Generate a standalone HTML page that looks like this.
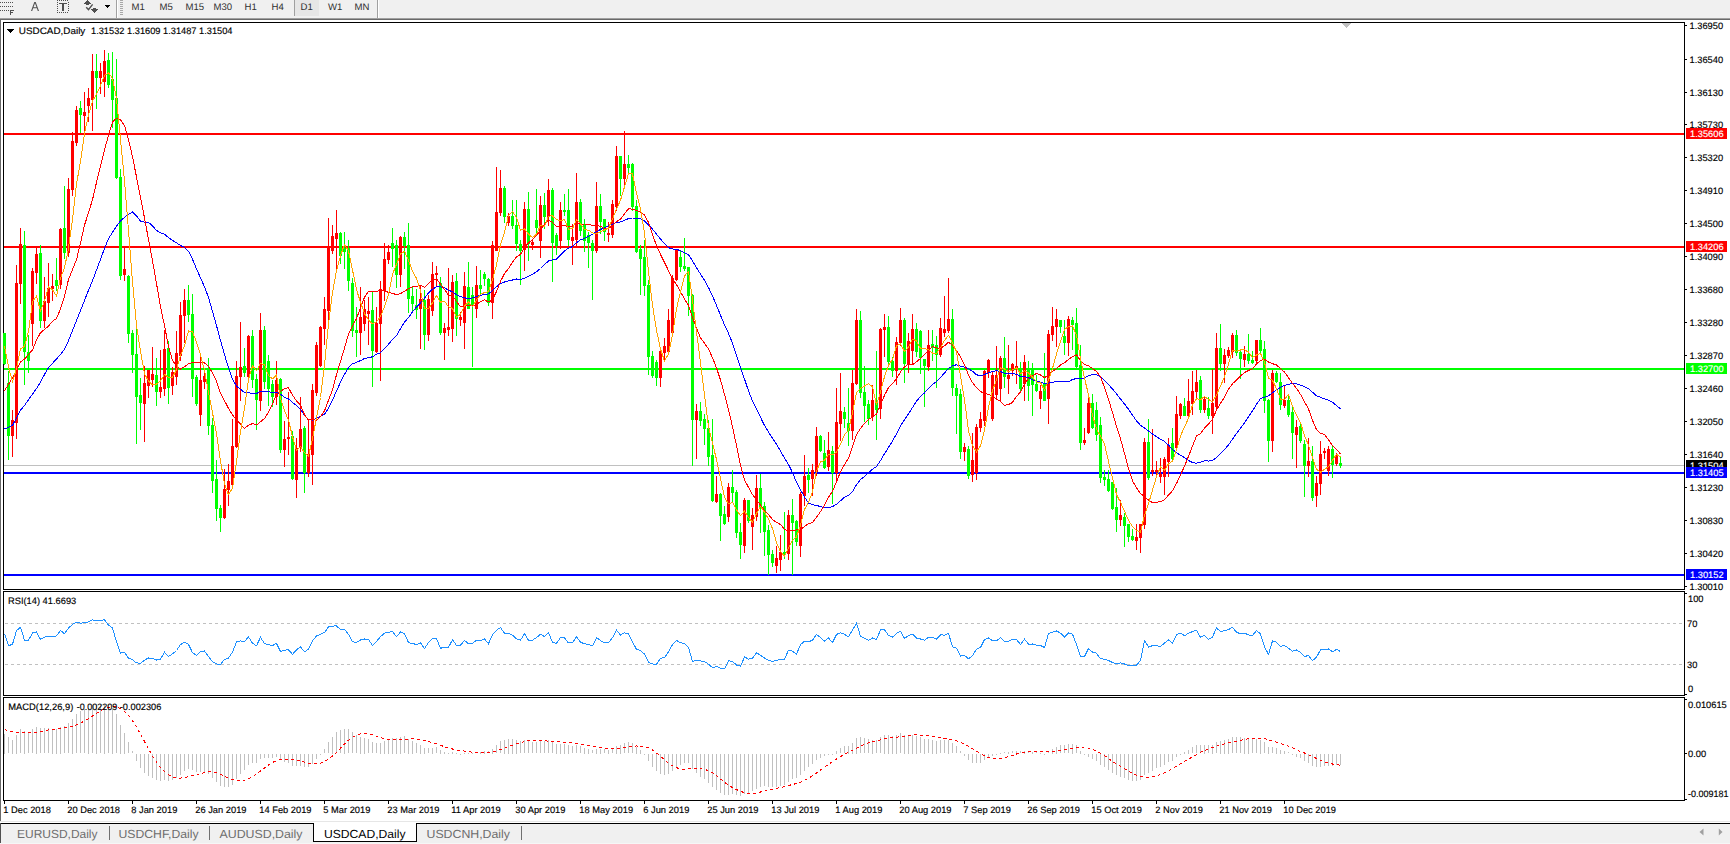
<!DOCTYPE html>
<html><head><meta charset="utf-8"><style>
html,body{margin:0;padding:0;background:#fff;width:1730px;height:844px;overflow:hidden}
svg{display:block}
text{font-family:"Liberation Sans", sans-serif;white-space:pre}
</style></head><body>
<svg width="1730" height="844" viewBox="0 0 1730 844" shape-rendering="crispEdges" text-rendering="geometricPrecision">
<rect x="0" y="0" width="1730" height="18" fill="#f0f0f0"/>
<rect x="0" y="18" width="1730" height="1" fill="#a0a0a0"/>
<rect x="0" y="19" width="1730" height="1" fill="#696969"/>
<rect x="0" y="19" width="1" height="802" fill="#696969"/>
<rect x="0" y="2" width="1" height="1" fill="#505050"/>
<rect x="2" y="2" width="1" height="1" fill="#505050"/>
<rect x="4" y="2" width="1" height="1" fill="#505050"/>
<rect x="6" y="2" width="1" height="1" fill="#505050"/>
<rect x="8" y="2" width="1" height="1" fill="#505050"/>
<rect x="10" y="2" width="1" height="1" fill="#505050"/>
<rect x="12" y="2" width="1" height="1" fill="#505050"/>
<rect x="0" y="6" width="1" height="1" fill="#505050"/>
<rect x="2" y="6" width="1" height="1" fill="#505050"/>
<rect x="4" y="6" width="1" height="1" fill="#505050"/>
<rect x="6" y="6" width="1" height="1" fill="#505050"/>
<rect x="8" y="6" width="1" height="1" fill="#505050"/>
<rect x="10" y="6" width="1" height="1" fill="#505050"/>
<rect x="12" y="6" width="1" height="1" fill="#505050"/>
<rect x="0" y="10" width="1" height="1" fill="#505050"/>
<rect x="2" y="10" width="1" height="1" fill="#505050"/>
<rect x="4" y="10" width="1" height="1" fill="#505050"/>
<rect x="6" y="10" width="1" height="1" fill="#505050"/>
<rect x="8" y="10" width="1" height="1" fill="#505050"/>
<rect x="10" y="10" width="1.3" height="5" fill="#505050"/><rect x="10" y="10" width="4" height="1.2" fill="#505050"/><rect x="10" y="12" width="3" height="1.1" fill="#505050"/>
<path d="M31 11 L34.3 2 L35.7 2 L39 11 L37.8 11 L36.9 8.3 L33.1 8.3 L32.2 11 Z M33.5 7.2 L36.5 7.2 L35 3.2 Z" fill="#505050" fill-rule="evenodd" shape-rendering="geometricPrecision"/>
<rect x="57" y="0" width="1" height="1" fill="#505050"/><rect x="57" y="12" width="1" height="1" fill="#505050"/>
<rect x="59" y="0" width="1" height="1" fill="#505050"/><rect x="59" y="12" width="1" height="1" fill="#505050"/>
<rect x="61" y="0" width="1" height="1" fill="#505050"/><rect x="61" y="12" width="1" height="1" fill="#505050"/>
<rect x="63" y="0" width="1" height="1" fill="#505050"/><rect x="63" y="12" width="1" height="1" fill="#505050"/>
<rect x="65" y="0" width="1" height="1" fill="#505050"/><rect x="65" y="12" width="1" height="1" fill="#505050"/>
<rect x="67" y="0" width="1" height="1" fill="#505050"/><rect x="67" y="12" width="1" height="1" fill="#505050"/>
<rect x="57" y="2" width="1" height="1" fill="#505050"/><rect x="68" y="2" width="1" height="1" fill="#505050"/>
<rect x="57" y="4" width="1" height="1" fill="#505050"/><rect x="68" y="4" width="1" height="1" fill="#505050"/>
<rect x="57" y="6" width="1" height="1" fill="#505050"/><rect x="68" y="6" width="1" height="1" fill="#505050"/>
<rect x="57" y="8" width="1" height="1" fill="#505050"/><rect x="68" y="8" width="1" height="1" fill="#505050"/>
<rect x="57" y="10" width="1" height="1" fill="#505050"/><rect x="68" y="10" width="1" height="1" fill="#505050"/>
<rect x="59" y="3" width="8" height="1" fill="#505050"/><rect x="62" y="3" width="2" height="8" fill="#505050"/>
<rect x="87" y="0" width="1" height="1" fill="#505050"/>
<rect x="86" y="1" width="3" height="1" fill="#505050"/>
<rect x="85" y="2" width="5" height="1" fill="#505050"/>
<rect x="84" y="3" width="7" height="1" fill="#505050"/>
<rect x="86" y="4" width="3" height="1" fill="#505050"/>
<rect x="93" y="8" width="3" height="1" fill="#505050"/>
<rect x="91" y="9" width="7" height="1" fill="#505050"/>
<rect x="92" y="10" width="5" height="1" fill="#505050"/>
<rect x="93" y="11" width="3" height="1" fill="#505050"/>
<rect x="94" y="12" width="1" height="1" fill="#505050"/>
<path d="M86.2 7.3 L88.5 9.6 L92.6 4.4" stroke="#505050" stroke-width="1.4" fill="none" shape-rendering="geometricPrecision"/>
<rect x="105" y="5" width="5" height="1" fill="#000"/><rect x="106" y="6" width="3" height="1" fill="#000"/><rect x="107" y="7" width="1" height="1" fill="#000"/>
<rect x="116" y="0" width="1" height="18" fill="#a0a0a0"/><rect x="117" y="0" width="1" height="18" fill="#fff"/>
<rect x="120" y="0" width="3" height="1" fill="#a8a8a8"/>
<rect x="120" y="2" width="3" height="1" fill="#a8a8a8"/>
<rect x="120" y="4" width="3" height="1" fill="#a8a8a8"/>
<rect x="120" y="6" width="3" height="1" fill="#a8a8a8"/>
<rect x="120" y="8" width="3" height="1" fill="#a8a8a8"/>
<rect x="120" y="10" width="3" height="1" fill="#a8a8a8"/>
<rect x="120" y="12" width="3" height="1" fill="#a8a8a8"/>
<rect x="120" y="14" width="3" height="1" fill="#a8a8a8"/>
<rect x="295" y="0" width="24" height="16" fill="#e6e6e6"/>
<rect x="294" y="0" width="1" height="16" fill="#a0a0a0"/>
<rect x="377" y="0" width="1" height="18" fill="#a0a0a0"/><rect x="378" y="0" width="1" height="18" fill="#fff"/>
<text x="131.5" y="10.2" font-family="Liberation Sans, sans-serif" font-size="9.6" stroke-width="0.01" fill="#303030">M1</text>
<text x="159.5" y="10.2" font-family="Liberation Sans, sans-serif" font-size="9.6" stroke-width="0.01" fill="#303030">M5</text>
<text x="185.5" y="10.2" font-family="Liberation Sans, sans-serif" font-size="9.6" stroke-width="0.01" fill="#303030">M15</text>
<text x="213.5" y="10.2" font-family="Liberation Sans, sans-serif" font-size="9.6" stroke-width="0.01" fill="#303030">M30</text>
<text x="244.5" y="10.2" font-family="Liberation Sans, sans-serif" font-size="9.6" stroke-width="0.01" fill="#303030">H1</text>
<text x="271.5" y="10.2" font-family="Liberation Sans, sans-serif" font-size="9.6" stroke-width="0.01" fill="#303030">H4</text>
<text x="300.5" y="10.2" font-family="Liberation Sans, sans-serif" font-size="9.6" stroke-width="0.01" fill="#303030">D1</text>
<text x="328" y="10.2" font-family="Liberation Sans, sans-serif" font-size="9.6" stroke-width="0.01" fill="#303030">W1</text>
<text x="354.5" y="10.2" font-family="Liberation Sans, sans-serif" font-size="9.6" stroke-width="0.01" fill="#303030">MN</text>
<rect x="1" y="20" width="1729" height="801" fill="#ffffff"/>
<rect x="3.5" y="22.5" width="1681" height="567" fill="none" stroke="#000" stroke-width="1"/>
<rect x="3.5" y="591.5" width="1681" height="104" fill="none" stroke="#000" stroke-width="1"/>
<rect x="3.5" y="697.5" width="1681" height="103" fill="none" stroke="#000" stroke-width="1"/>
<rect x="1685" y="25" width="2" height="1" fill="#000"/>
<text x="1689.5" y="29" font-family="Liberation Sans, sans-serif" font-size="9.3" fill="#000" stroke="#000" stroke-width="0.15">1.36950</text>
<rect x="1685" y="59" width="2" height="1" fill="#000"/>
<text x="1689.5" y="63" font-family="Liberation Sans, sans-serif" font-size="9.3" fill="#000" stroke="#000" stroke-width="0.15">1.36540</text>
<rect x="1685" y="92" width="2" height="1" fill="#000"/>
<text x="1689.5" y="96" font-family="Liberation Sans, sans-serif" font-size="9.3" fill="#000" stroke="#000" stroke-width="0.15">1.36130</text>
<rect x="1685" y="124" width="2" height="1" fill="#000"/>
<text x="1689.5" y="128" font-family="Liberation Sans, sans-serif" font-size="9.3" fill="#000" stroke="#000" stroke-width="0.15">1.35730</text>
<rect x="1685" y="157" width="2" height="1" fill="#000"/>
<text x="1689.5" y="161" font-family="Liberation Sans, sans-serif" font-size="9.3" fill="#000" stroke="#000" stroke-width="0.15">1.35320</text>
<rect x="1685" y="190" width="2" height="1" fill="#000"/>
<text x="1689.5" y="194" font-family="Liberation Sans, sans-serif" font-size="9.3" fill="#000" stroke="#000" stroke-width="0.15">1.34910</text>
<rect x="1685" y="223" width="2" height="1" fill="#000"/>
<text x="1689.5" y="227" font-family="Liberation Sans, sans-serif" font-size="9.3" fill="#000" stroke="#000" stroke-width="0.15">1.34500</text>
<rect x="1685" y="256" width="2" height="1" fill="#000"/>
<text x="1689.5" y="260" font-family="Liberation Sans, sans-serif" font-size="9.3" fill="#000" stroke="#000" stroke-width="0.15">1.34090</text>
<rect x="1685" y="289" width="2" height="1" fill="#000"/>
<text x="1689.5" y="293" font-family="Liberation Sans, sans-serif" font-size="9.3" fill="#000" stroke="#000" stroke-width="0.15">1.33680</text>
<rect x="1685" y="322" width="2" height="1" fill="#000"/>
<text x="1689.5" y="326" font-family="Liberation Sans, sans-serif" font-size="9.3" fill="#000" stroke="#000" stroke-width="0.15">1.33280</text>
<rect x="1685" y="355" width="2" height="1" fill="#000"/>
<text x="1689.5" y="359" font-family="Liberation Sans, sans-serif" font-size="9.3" fill="#000" stroke="#000" stroke-width="0.15">1.32870</text>
<rect x="1685" y="388" width="2" height="1" fill="#000"/>
<text x="1689.5" y="392" font-family="Liberation Sans, sans-serif" font-size="9.3" fill="#000" stroke="#000" stroke-width="0.15">1.32460</text>
<rect x="1685" y="421" width="2" height="1" fill="#000"/>
<text x="1689.5" y="425" font-family="Liberation Sans, sans-serif" font-size="9.3" fill="#000" stroke="#000" stroke-width="0.15">1.32050</text>
<rect x="1685" y="454" width="2" height="1" fill="#000"/>
<text x="1689.5" y="458" font-family="Liberation Sans, sans-serif" font-size="9.3" fill="#000" stroke="#000" stroke-width="0.15">1.31640</text>
<rect x="1685" y="487" width="2" height="1" fill="#000"/>
<text x="1689.5" y="491" font-family="Liberation Sans, sans-serif" font-size="9.3" fill="#000" stroke="#000" stroke-width="0.15">1.31230</text>
<rect x="1685" y="520" width="2" height="1" fill="#000"/>
<text x="1689.5" y="524" font-family="Liberation Sans, sans-serif" font-size="9.3" fill="#000" stroke="#000" stroke-width="0.15">1.30830</text>
<rect x="1685" y="553" width="2" height="1" fill="#000"/>
<text x="1689.5" y="557" font-family="Liberation Sans, sans-serif" font-size="9.3" fill="#000" stroke="#000" stroke-width="0.15">1.30420</text>
<rect x="1685" y="586" width="2" height="1" fill="#000"/>
<text x="1689.5" y="590" font-family="Liberation Sans, sans-serif" font-size="9.3" fill="#000" stroke="#000" stroke-width="0.15">1.30010</text>
<rect x="4" y="465" width="1680" height="1" fill="#c0c0c0"/>
<rect x="4" y="133" width="1680" height="2" fill="#ff0000"/>
<rect x="4" y="246" width="1680" height="2" fill="#ff0000"/>
<rect x="4" y="368" width="1680" height="2" fill="#00ff00"/>
<rect x="4" y="472" width="1680" height="2" fill="#0000ff"/>
<rect x="4" y="574" width="1680" height="2" fill="#0000ff"/>
<text x="1688" y="602" font-family="Liberation Sans, sans-serif" font-size="9.3" fill="#000" stroke="#000" stroke-width="0.15">100</text>
<text x="1687" y="626.5" font-family="Liberation Sans, sans-serif" font-size="9.3" fill="#000" stroke="#000" stroke-width="0.15">70</text>
<text x="1687" y="668" font-family="Liberation Sans, sans-serif" font-size="9.3" fill="#000" stroke="#000" stroke-width="0.15">30</text>
<text x="1688" y="691.5" font-family="Liberation Sans, sans-serif" font-size="9.3" fill="#000" stroke="#000" stroke-width="0.15">0</text>
<rect x="1685" y="593" width="2" height="1" fill="#000"/><rect x="1685" y="694" width="2" height="1" fill="#000"/>
<line x1="5" y1="623.5" x2="1684" y2="623.5" stroke="#c0c0c0" stroke-dasharray="3,3"/>
<line x1="5" y1="664.5" x2="1684" y2="664.5" stroke="#c0c0c0" stroke-dasharray="3,3"/>
<text x="1688" y="707.5" font-family="Liberation Sans, sans-serif" font-size="9.3" fill="#000" stroke="#000" stroke-width="0.15">0.010615</text>
<text x="1688" y="757" font-family="Liberation Sans, sans-serif" font-size="9.3" fill="#000" stroke="#000" stroke-width="0.15">0.00</text>
<text x="1688" y="796.5" font-family="Liberation Sans, sans-serif" font-size="9.3" fill="#000" stroke="#000" stroke-width="0.15" textLength="40.5" lengthAdjust="spacingAndGlyphs">-0.009181</text>
<rect x="1685" y="699" width="2" height="1" fill="#000"/><rect x="1685" y="753" width="2" height="1" fill="#000"/><rect x="1685" y="799" width="2" height="1" fill="#000"/>
<rect x="7" y="29" width="7" height="1" fill="#000"/><rect x="8" y="30" width="5" height="1" fill="#000"/><rect x="9" y="31" width="3" height="1" fill="#000"/><rect x="10" y="32" width="1" height="1" fill="#000"/>
<text x="18.8" y="33.5" font-family="Liberation Sans, sans-serif" font-size="9.3" fill="#000" stroke="#000" stroke-width="0.15" textLength="66.5" lengthAdjust="spacingAndGlyphs">USDCAD,Daily</text>
<text x="91" y="33.5" font-family="Liberation Sans, sans-serif" font-size="9.3" fill="#000" stroke="#000" stroke-width="0.15" textLength="141.5" lengthAdjust="spacingAndGlyphs">1.31532 1.31609 1.31487 1.31504</text>
<path d="M1341 23 L1351 23 L1346 28 Z" fill="#c0c0c0"/>
<rect x="4" y="801" width="1" height="3" fill="#000"/>
<text x="3.3" y="813" font-family="Liberation Sans, sans-serif" font-size="9.3" fill="#000" stroke="#000" stroke-width="0.15">1 Dec 2018</text>
<rect x="68" y="801" width="1" height="3" fill="#000"/>
<text x="67.3" y="813" font-family="Liberation Sans, sans-serif" font-size="9.3" fill="#000" stroke="#000" stroke-width="0.15">20 Dec 2018</text>
<rect x="132" y="801" width="1" height="3" fill="#000"/>
<text x="131.3" y="813" font-family="Liberation Sans, sans-serif" font-size="9.3" fill="#000" stroke="#000" stroke-width="0.15">8 Jan 2019</text>
<rect x="196" y="801" width="1" height="3" fill="#000"/>
<text x="195.3" y="813" font-family="Liberation Sans, sans-serif" font-size="9.3" fill="#000" stroke="#000" stroke-width="0.15">26 Jan 2019</text>
<rect x="260" y="801" width="1" height="3" fill="#000"/>
<text x="259.3" y="813" font-family="Liberation Sans, sans-serif" font-size="9.3" fill="#000" stroke="#000" stroke-width="0.15">14 Feb 2019</text>
<rect x="324" y="801" width="1" height="3" fill="#000"/>
<text x="323.3" y="813" font-family="Liberation Sans, sans-serif" font-size="9.3" fill="#000" stroke="#000" stroke-width="0.15">5 Mar 2019</text>
<rect x="388" y="801" width="1" height="3" fill="#000"/>
<text x="387.3" y="813" font-family="Liberation Sans, sans-serif" font-size="9.3" fill="#000" stroke="#000" stroke-width="0.15">23 Mar 2019</text>
<rect x="452" y="801" width="1" height="3" fill="#000"/>
<text x="451.3" y="813" font-family="Liberation Sans, sans-serif" font-size="9.3" fill="#000" stroke="#000" stroke-width="0.15">11 Apr 2019</text>
<rect x="516" y="801" width="1" height="3" fill="#000"/>
<text x="515.3" y="813" font-family="Liberation Sans, sans-serif" font-size="9.3" fill="#000" stroke="#000" stroke-width="0.15">30 Apr 2019</text>
<rect x="580" y="801" width="1" height="3" fill="#000"/>
<text x="579.3" y="813" font-family="Liberation Sans, sans-serif" font-size="9.3" fill="#000" stroke="#000" stroke-width="0.15">18 May 2019</text>
<rect x="644" y="801" width="1" height="3" fill="#000"/>
<text x="643.3" y="813" font-family="Liberation Sans, sans-serif" font-size="9.3" fill="#000" stroke="#000" stroke-width="0.15">6 Jun 2019</text>
<rect x="708" y="801" width="1" height="3" fill="#000"/>
<text x="707.3" y="813" font-family="Liberation Sans, sans-serif" font-size="9.3" fill="#000" stroke="#000" stroke-width="0.15">25 Jun 2019</text>
<rect x="772" y="801" width="1" height="3" fill="#000"/>
<text x="771.3" y="813" font-family="Liberation Sans, sans-serif" font-size="9.3" fill="#000" stroke="#000" stroke-width="0.15">13 Jul 2019</text>
<rect x="836" y="801" width="1" height="3" fill="#000"/>
<text x="835.3" y="813" font-family="Liberation Sans, sans-serif" font-size="9.3" fill="#000" stroke="#000" stroke-width="0.15">1 Aug 2019</text>
<rect x="900" y="801" width="1" height="3" fill="#000"/>
<text x="899.3" y="813" font-family="Liberation Sans, sans-serif" font-size="9.3" fill="#000" stroke="#000" stroke-width="0.15">20 Aug 2019</text>
<rect x="964" y="801" width="1" height="3" fill="#000"/>
<text x="963.3" y="813" font-family="Liberation Sans, sans-serif" font-size="9.3" fill="#000" stroke="#000" stroke-width="0.15">7 Sep 2019</text>
<rect x="1028" y="801" width="1" height="3" fill="#000"/>
<text x="1027.3" y="813" font-family="Liberation Sans, sans-serif" font-size="9.3" fill="#000" stroke="#000" stroke-width="0.15">26 Sep 2019</text>
<rect x="1092" y="801" width="1" height="3" fill="#000"/>
<text x="1091.3" y="813" font-family="Liberation Sans, sans-serif" font-size="9.3" fill="#000" stroke="#000" stroke-width="0.15">15 Oct 2019</text>
<rect x="1156" y="801" width="1" height="3" fill="#000"/>
<text x="1155.3" y="813" font-family="Liberation Sans, sans-serif" font-size="9.3" fill="#000" stroke="#000" stroke-width="0.15">2 Nov 2019</text>
<rect x="1220" y="801" width="1" height="3" fill="#000"/>
<text x="1219.3" y="813" font-family="Liberation Sans, sans-serif" font-size="9.3" fill="#000" stroke="#000" stroke-width="0.15">21 Nov 2019</text>
<rect x="1284" y="801" width="1" height="3" fill="#000"/>
<text x="1283.3" y="813" font-family="Liberation Sans, sans-serif" font-size="9.3" fill="#000" stroke="#000" stroke-width="0.15">10 Dec 2019</text>
<rect x="0" y="823" width="1730" height="21" fill="#f0f0f0"/>
<rect x="0" y="823" width="1730" height="1" fill="#000"/>
<rect x="313" y="823" width="104" height="19" fill="#fff"/>
<path d="M313.5 823 L313.5 841.5 L416.5 841.5 L416.5 823" fill="none" stroke="#000"/>
<rect x="109" y="826" width="1" height="14" fill="#707070"/>
<rect x="209" y="826" width="1" height="14" fill="#707070"/>
<rect x="521" y="826" width="1" height="14" fill="#707070"/>
<text x="17" y="838" font-family="Liberation Sans, sans-serif" font-size="11.8" textLength="80.5" lengthAdjust="spacingAndGlyphs" stroke-width="0.05" fill="#6d6d6d">EURUSD,Daily</text>
<text x="118.5" y="838" font-family="Liberation Sans, sans-serif" font-size="11.8" textLength="80" lengthAdjust="spacingAndGlyphs" stroke-width="0.05" fill="#6d6d6d">USDCHF,Daily</text>
<text x="219.5" y="838" font-family="Liberation Sans, sans-serif" font-size="11.8" textLength="83" lengthAdjust="spacingAndGlyphs" stroke-width="0.05" fill="#6d6d6d">AUDUSD,Daily</text>
<text x="324" y="838" font-family="Liberation Sans, sans-serif" font-size="11.8" textLength="81.5" lengthAdjust="spacingAndGlyphs" stroke-width="0.05" fill="#000">USDCAD,Daily</text>
<text x="426.5" y="838" font-family="Liberation Sans, sans-serif" font-size="11.8" textLength="83.5" lengthAdjust="spacingAndGlyphs" stroke-width="0.05" fill="#6d6d6d">USDCNH,Daily</text>
<rect x="0" y="823" width="1" height="21" fill="#505050"/>
<path d="M1703.5 828.5 L1699.5 832 L1703.5 835.5 Z" fill="#a0a0a0" shape-rendering="geometricPrecision"/><path d="M1718.8 828.5 L1722.5 832 L1718.8 835.5 Z" fill="#a0a0a0" shape-rendering="geometricPrecision"/>
<rect x="0" y="821" width="1730" height="1" fill="#e6e6e6"/><rect x="0" y="843" width="1730" height="1" fill="#f6f6f6"/>
<g shape-rendering="crispEdges">
<rect x="4" y="333" width="1" height="32" fill="#00ff00"/><rect x="3" y="333" width="3" height="31" fill="#00ff00"/>
<rect x="8" y="371" width="1" height="89" fill="#00ff00"/><rect x="7" y="383" width="3" height="53" fill="#00ff00"/>
<rect x="12" y="410" width="1" height="47" fill="#ff0000"/><rect x="11" y="420" width="3" height="16" fill="#ff0000"/>
<rect x="16" y="265" width="1" height="174" fill="#ff0000"/><rect x="15" y="283" width="3" height="140" fill="#ff0000"/>
<rect x="20" y="228" width="1" height="76" fill="#ff0000"/><rect x="19" y="244" width="3" height="40" fill="#ff0000"/>
<rect x="24" y="231" width="1" height="154" fill="#00ff00"/><rect x="23" y="245" width="3" height="107" fill="#00ff00"/>
<rect x="28" y="335" width="1" height="38" fill="#00ff00"/><rect x="27" y="352" width="3" height="9" fill="#00ff00"/>
<rect x="32" y="268" width="1" height="78" fill="#ff0000"/><rect x="31" y="271" width="3" height="53" fill="#ff0000"/>
<rect x="36" y="247" width="1" height="37" fill="#ff0000"/><rect x="35" y="254" width="3" height="19" fill="#ff0000"/>
<rect x="40" y="245" width="1" height="83" fill="#00ff00"/><rect x="39" y="253" width="3" height="68" fill="#00ff00"/>
<rect x="44" y="277" width="1" height="51" fill="#ff0000"/><rect x="43" y="301" width="3" height="20" fill="#ff0000"/>
<rect x="48" y="263" width="1" height="54" fill="#ff0000"/><rect x="47" y="288" width="3" height="15" fill="#ff0000"/>
<rect x="52" y="274" width="1" height="27" fill="#ff0000"/><rect x="51" y="286" width="3" height="3" fill="#ff0000"/>
<rect x="56" y="258" width="1" height="33" fill="#00ff00"/><rect x="55" y="280" width="3" height="6" fill="#00ff00"/>
<rect x="60" y="228" width="1" height="61" fill="#ff0000"/><rect x="59" y="229" width="3" height="56" fill="#ff0000"/>
<rect x="64" y="186" width="1" height="73" fill="#00ff00"/><rect x="63" y="228" width="3" height="25" fill="#00ff00"/>
<rect x="68" y="178" width="1" height="79" fill="#ff0000"/><rect x="67" y="189" width="3" height="64" fill="#ff0000"/>
<rect x="72" y="132" width="1" height="64" fill="#ff0000"/><rect x="71" y="141" width="3" height="49" fill="#ff0000"/>
<rect x="76" y="106" width="1" height="40" fill="#ff0000"/><rect x="75" y="110" width="3" height="33" fill="#ff0000"/>
<rect x="80" y="101" width="1" height="32" fill="#00ff00"/><rect x="79" y="108" width="3" height="7" fill="#00ff00"/>
<rect x="84" y="92" width="1" height="39" fill="#ff0000"/><rect x="83" y="112" width="3" height="4" fill="#ff0000"/>
<rect x="88" y="88" width="1" height="34" fill="#ff0000"/><rect x="87" y="98" width="3" height="8" fill="#ff0000"/>
<rect x="92" y="54" width="1" height="77" fill="#ff0000"/><rect x="91" y="71" width="3" height="29" fill="#ff0000"/>
<rect x="96" y="54" width="1" height="55" fill="#00ff00"/><rect x="95" y="71" width="3" height="7" fill="#00ff00"/>
<rect x="100" y="63" width="1" height="31" fill="#ff0000"/><rect x="99" y="71" width="3" height="7" fill="#ff0000"/>
<rect x="104" y="50" width="1" height="47" fill="#ff0000"/><rect x="103" y="61" width="3" height="21" fill="#ff0000"/>
<rect x="108" y="53" width="1" height="35" fill="#00ff00"/><rect x="107" y="60" width="3" height="25" fill="#00ff00"/>
<rect x="112" y="52" width="1" height="76" fill="#00ff00"/><rect x="111" y="79" width="3" height="21" fill="#00ff00"/>
<rect x="116" y="59" width="1" height="120" fill="#00ff00"/><rect x="115" y="98" width="3" height="80" fill="#00ff00"/>
<rect x="120" y="169" width="1" height="111" fill="#00ff00"/><rect x="119" y="177" width="3" height="99" fill="#00ff00"/>
<rect x="124" y="247" width="1" height="34" fill="#ff0000"/><rect x="123" y="269" width="3" height="6" fill="#ff0000"/>
<rect x="128" y="275" width="1" height="68" fill="#00ff00"/><rect x="127" y="276" width="3" height="58" fill="#00ff00"/>
<rect x="132" y="330" width="1" height="43" fill="#00ff00"/><rect x="131" y="333" width="3" height="22" fill="#00ff00"/>
<rect x="136" y="329" width="1" height="115" fill="#00ff00"/><rect x="135" y="354" width="3" height="43" fill="#00ff00"/>
<rect x="140" y="378" width="1" height="52" fill="#00ff00"/><rect x="139" y="395" width="3" height="8" fill="#00ff00"/>
<rect x="144" y="366" width="1" height="76" fill="#ff0000"/><rect x="143" y="383" width="3" height="21" fill="#ff0000"/>
<rect x="148" y="370" width="1" height="28" fill="#ff0000"/><rect x="147" y="370" width="3" height="16" fill="#ff0000"/>
<rect x="152" y="347" width="1" height="40" fill="#ff0000"/><rect x="151" y="374" width="3" height="6" fill="#ff0000"/>
<rect x="156" y="358" width="1" height="48" fill="#00ff00"/><rect x="155" y="375" width="3" height="17" fill="#00ff00"/>
<rect x="160" y="350" width="1" height="48" fill="#ff0000"/><rect x="159" y="387" width="3" height="5" fill="#ff0000"/>
<rect x="164" y="330" width="1" height="66" fill="#ff0000"/><rect x="163" y="349" width="3" height="40" fill="#ff0000"/>
<rect x="168" y="341" width="1" height="63" fill="#00ff00"/><rect x="167" y="348" width="3" height="40" fill="#00ff00"/>
<rect x="172" y="367" width="1" height="28" fill="#ff0000"/><rect x="171" y="372" width="3" height="14" fill="#ff0000"/>
<rect x="176" y="331" width="1" height="54" fill="#ff0000"/><rect x="175" y="353" width="3" height="24" fill="#ff0000"/>
<rect x="180" y="302" width="1" height="59" fill="#ff0000"/><rect x="179" y="315" width="3" height="41" fill="#ff0000"/>
<rect x="184" y="289" width="1" height="54" fill="#ff0000"/><rect x="183" y="300" width="3" height="16" fill="#ff0000"/>
<rect x="188" y="285" width="1" height="37" fill="#00ff00"/><rect x="187" y="300" width="3" height="15" fill="#00ff00"/>
<rect x="192" y="294" width="1" height="103" fill="#00ff00"/><rect x="191" y="314" width="3" height="65" fill="#00ff00"/>
<rect x="196" y="375" width="1" height="31" fill="#00ff00"/><rect x="195" y="377" width="3" height="27" fill="#00ff00"/>
<rect x="200" y="357" width="1" height="69" fill="#ff0000"/><rect x="199" y="380" width="3" height="35" fill="#ff0000"/>
<rect x="204" y="370" width="1" height="19" fill="#ff0000"/><rect x="203" y="376" width="3" height="6" fill="#ff0000"/>
<rect x="208" y="358" width="1" height="77" fill="#00ff00"/><rect x="207" y="369" width="3" height="57" fill="#00ff00"/>
<rect x="212" y="418" width="1" height="75" fill="#00ff00"/><rect x="211" y="425" width="3" height="56" fill="#00ff00"/>
<rect x="216" y="460" width="1" height="61" fill="#00ff00"/><rect x="215" y="479" width="3" height="30" fill="#00ff00"/>
<rect x="220" y="505" width="1" height="27" fill="#00ff00"/><rect x="219" y="508" width="3" height="10" fill="#00ff00"/>
<rect x="224" y="469" width="1" height="50" fill="#ff0000"/><rect x="223" y="489" width="3" height="29" fill="#ff0000"/>
<rect x="228" y="464" width="1" height="42" fill="#ff0000"/><rect x="227" y="481" width="3" height="9" fill="#ff0000"/>
<rect x="232" y="419" width="1" height="67" fill="#ff0000"/><rect x="231" y="446" width="3" height="39" fill="#ff0000"/>
<rect x="236" y="361" width="1" height="87" fill="#ff0000"/><rect x="235" y="376" width="3" height="71" fill="#ff0000"/>
<rect x="240" y="322" width="1" height="79" fill="#ff0000"/><rect x="239" y="367" width="3" height="10" fill="#ff0000"/>
<rect x="244" y="348" width="1" height="29" fill="#00ff00"/><rect x="243" y="366" width="3" height="7" fill="#00ff00"/>
<rect x="248" y="335" width="1" height="46" fill="#ff0000"/><rect x="247" y="336" width="3" height="41" fill="#ff0000"/>
<rect x="252" y="330" width="1" height="58" fill="#00ff00"/><rect x="251" y="336" width="3" height="44" fill="#00ff00"/>
<rect x="256" y="374" width="1" height="56" fill="#00ff00"/><rect x="255" y="379" width="3" height="21" fill="#00ff00"/>
<rect x="260" y="313" width="1" height="98" fill="#ff0000"/><rect x="259" y="330" width="3" height="71" fill="#ff0000"/>
<rect x="264" y="326" width="1" height="63" fill="#00ff00"/><rect x="263" y="330" width="3" height="52" fill="#00ff00"/>
<rect x="268" y="355" width="1" height="51" fill="#00ff00"/><rect x="267" y="361" width="3" height="28" fill="#00ff00"/>
<rect x="272" y="380" width="1" height="27" fill="#00ff00"/><rect x="271" y="384" width="3" height="13" fill="#00ff00"/>
<rect x="276" y="361" width="1" height="44" fill="#ff0000"/><rect x="275" y="380" width="3" height="17" fill="#ff0000"/>
<rect x="280" y="378" width="1" height="75" fill="#00ff00"/><rect x="279" y="379" width="3" height="71" fill="#00ff00"/>
<rect x="284" y="421" width="1" height="46" fill="#ff0000"/><rect x="283" y="439" width="3" height="11" fill="#ff0000"/>
<rect x="288" y="392" width="1" height="63" fill="#ff0000"/><rect x="287" y="437" width="3" height="2" fill="#ff0000"/>
<rect x="292" y="431" width="1" height="49" fill="#00ff00"/><rect x="291" y="436" width="3" height="43" fill="#00ff00"/>
<rect x="296" y="438" width="1" height="60" fill="#ff0000"/><rect x="295" y="448" width="3" height="32" fill="#ff0000"/>
<rect x="300" y="397" width="1" height="55" fill="#ff0000"/><rect x="299" y="429" width="3" height="18" fill="#ff0000"/>
<rect x="304" y="426" width="1" height="67" fill="#00ff00"/><rect x="303" y="428" width="3" height="45" fill="#00ff00"/>
<rect x="308" y="420" width="1" height="57" fill="#ff0000"/><rect x="307" y="454" width="3" height="19" fill="#ff0000"/>
<rect x="312" y="384" width="1" height="101" fill="#ff0000"/><rect x="311" y="390" width="3" height="65" fill="#ff0000"/>
<rect x="316" y="342" width="1" height="54" fill="#ff0000"/><rect x="315" y="345" width="3" height="48" fill="#ff0000"/>
<rect x="320" y="326" width="1" height="41" fill="#ff0000"/><rect x="319" y="327" width="3" height="39" fill="#ff0000"/>
<rect x="324" y="297" width="1" height="48" fill="#ff0000"/><rect x="323" y="309" width="3" height="20" fill="#ff0000"/>
<rect x="328" y="218" width="1" height="102" fill="#ff0000"/><rect x="327" y="247" width="3" height="64" fill="#ff0000"/>
<rect x="332" y="225" width="1" height="29" fill="#ff0000"/><rect x="331" y="236" width="3" height="15" fill="#ff0000"/>
<rect x="336" y="210" width="1" height="59" fill="#ff0000"/><rect x="335" y="233" width="3" height="6" fill="#ff0000"/>
<rect x="340" y="232" width="1" height="32" fill="#00ff00"/><rect x="339" y="233" width="3" height="23" fill="#00ff00"/>
<rect x="344" y="232" width="1" height="37" fill="#00ff00"/><rect x="343" y="248" width="3" height="4" fill="#00ff00"/>
<rect x="348" y="240" width="1" height="51" fill="#00ff00"/><rect x="347" y="248" width="3" height="33" fill="#00ff00"/>
<rect x="352" y="278" width="1" height="59" fill="#00ff00"/><rect x="351" y="283" width="3" height="48" fill="#00ff00"/>
<rect x="356" y="307" width="1" height="50" fill="#00ff00"/><rect x="355" y="330" width="3" height="3" fill="#00ff00"/>
<rect x="360" y="287" width="1" height="68" fill="#ff0000"/><rect x="359" y="317" width="3" height="16" fill="#ff0000"/>
<rect x="364" y="300" width="1" height="31" fill="#ff0000"/><rect x="363" y="309" width="3" height="15" fill="#ff0000"/>
<rect x="368" y="297" width="1" height="48" fill="#ff0000"/><rect x="367" y="311" width="3" height="3" fill="#ff0000"/>
<rect x="372" y="292" width="1" height="95" fill="#00ff00"/><rect x="371" y="310" width="3" height="41" fill="#00ff00"/>
<rect x="376" y="307" width="1" height="46" fill="#ff0000"/><rect x="375" y="323" width="3" height="29" fill="#ff0000"/>
<rect x="380" y="281" width="1" height="100" fill="#ff0000"/><rect x="379" y="289" width="3" height="35" fill="#ff0000"/>
<rect x="384" y="243" width="1" height="58" fill="#ff0000"/><rect x="383" y="259" width="3" height="32" fill="#ff0000"/>
<rect x="388" y="245" width="1" height="19" fill="#ff0000"/><rect x="387" y="252" width="3" height="8" fill="#ff0000"/>
<rect x="392" y="228" width="1" height="39" fill="#00ff00"/><rect x="391" y="243" width="3" height="6" fill="#00ff00"/>
<rect x="396" y="240" width="1" height="48" fill="#00ff00"/><rect x="395" y="245" width="3" height="30" fill="#00ff00"/>
<rect x="400" y="236" width="1" height="51" fill="#ff0000"/><rect x="399" y="237" width="3" height="38" fill="#ff0000"/>
<rect x="404" y="232" width="1" height="37" fill="#00ff00"/><rect x="403" y="237" width="3" height="9" fill="#00ff00"/>
<rect x="408" y="223" width="1" height="90" fill="#00ff00"/><rect x="407" y="245" width="3" height="54" fill="#00ff00"/>
<rect x="412" y="287" width="1" height="26" fill="#00ff00"/><rect x="411" y="296" width="3" height="8" fill="#00ff00"/>
<rect x="416" y="289" width="1" height="30" fill="#00ff00"/><rect x="415" y="305" width="3" height="5" fill="#00ff00"/>
<rect x="420" y="286" width="1" height="63" fill="#ff0000"/><rect x="419" y="299" width="3" height="10" fill="#ff0000"/>
<rect x="424" y="290" width="1" height="60" fill="#00ff00"/><rect x="423" y="300" width="3" height="35" fill="#00ff00"/>
<rect x="428" y="295" width="1" height="46" fill="#ff0000"/><rect x="427" y="299" width="3" height="36" fill="#ff0000"/>
<rect x="432" y="262" width="1" height="54" fill="#ff0000"/><rect x="431" y="274" width="3" height="37" fill="#ff0000"/>
<rect x="436" y="266" width="1" height="20" fill="#ff0000"/><rect x="435" y="273" width="3" height="2" fill="#ff0000"/>
<rect x="440" y="277" width="1" height="58" fill="#00ff00"/><rect x="439" y="283" width="3" height="50" fill="#00ff00"/>
<rect x="444" y="323" width="1" height="37" fill="#ff0000"/><rect x="443" y="328" width="3" height="5" fill="#ff0000"/>
<rect x="448" y="268" width="1" height="68" fill="#ff0000"/><rect x="447" y="327" width="3" height="3" fill="#ff0000"/>
<rect x="452" y="275" width="1" height="67" fill="#ff0000"/><rect x="451" y="282" width="3" height="47" fill="#ff0000"/>
<rect x="456" y="273" width="1" height="63" fill="#00ff00"/><rect x="455" y="281" width="3" height="38" fill="#00ff00"/>
<rect x="460" y="312" width="1" height="14" fill="#ff0000"/><rect x="459" y="317" width="3" height="3" fill="#ff0000"/>
<rect x="464" y="272" width="1" height="77" fill="#ff0000"/><rect x="463" y="286" width="3" height="37" fill="#ff0000"/>
<rect x="468" y="262" width="1" height="47" fill="#00ff00"/><rect x="467" y="287" width="3" height="22" fill="#00ff00"/>
<rect x="472" y="287" width="1" height="80" fill="#00ff00"/><rect x="471" y="295" width="3" height="11" fill="#00ff00"/>
<rect x="476" y="266" width="1" height="52" fill="#ff0000"/><rect x="475" y="285" width="3" height="24" fill="#ff0000"/>
<rect x="480" y="270" width="1" height="26" fill="#00ff00"/><rect x="479" y="285" width="3" height="4" fill="#00ff00"/>
<rect x="484" y="272" width="1" height="14" fill="#00ff00"/><rect x="483" y="274" width="3" height="5" fill="#00ff00"/>
<rect x="488" y="278" width="1" height="28" fill="#00ff00"/><rect x="487" y="279" width="3" height="24" fill="#00ff00"/>
<rect x="492" y="241" width="1" height="78" fill="#ff0000"/><rect x="491" y="245" width="3" height="58" fill="#ff0000"/>
<rect x="496" y="167" width="1" height="84" fill="#ff0000"/><rect x="495" y="212" width="3" height="39" fill="#ff0000"/>
<rect x="500" y="170" width="1" height="46" fill="#ff0000"/><rect x="499" y="188" width="3" height="25" fill="#ff0000"/>
<rect x="504" y="186" width="1" height="37" fill="#00ff00"/><rect x="503" y="188" width="3" height="29" fill="#00ff00"/>
<rect x="508" y="213" width="1" height="13" fill="#ff0000"/><rect x="507" y="216" width="3" height="7" fill="#ff0000"/>
<rect x="512" y="200" width="1" height="29" fill="#00ff00"/><rect x="511" y="216" width="3" height="10" fill="#00ff00"/>
<rect x="516" y="200" width="1" height="51" fill="#00ff00"/><rect x="515" y="225" width="3" height="19" fill="#00ff00"/>
<rect x="520" y="240" width="1" height="45" fill="#00ff00"/><rect x="519" y="244" width="3" height="7" fill="#00ff00"/>
<rect x="524" y="202" width="1" height="69" fill="#ff0000"/><rect x="523" y="209" width="3" height="41" fill="#ff0000"/>
<rect x="528" y="192" width="1" height="69" fill="#00ff00"/><rect x="527" y="209" width="3" height="35" fill="#00ff00"/>
<rect x="532" y="240" width="1" height="10" fill="#ff0000"/><rect x="531" y="242" width="3" height="3" fill="#ff0000"/>
<rect x="536" y="189" width="1" height="47" fill="#00ff00"/><rect x="535" y="220" width="3" height="8" fill="#00ff00"/>
<rect x="540" y="196" width="1" height="62" fill="#ff0000"/><rect x="539" y="205" width="3" height="36" fill="#ff0000"/>
<rect x="544" y="193" width="1" height="36" fill="#00ff00"/><rect x="543" y="205" width="3" height="12" fill="#00ff00"/>
<rect x="548" y="179" width="1" height="47" fill="#ff0000"/><rect x="547" y="190" width="3" height="27" fill="#ff0000"/>
<rect x="552" y="188" width="1" height="94" fill="#00ff00"/><rect x="551" y="190" width="3" height="53" fill="#00ff00"/>
<rect x="556" y="233" width="1" height="22" fill="#00ff00"/><rect x="555" y="235" width="3" height="11" fill="#00ff00"/>
<rect x="560" y="202" width="1" height="47" fill="#ff0000"/><rect x="559" y="210" width="3" height="31" fill="#ff0000"/>
<rect x="564" y="194" width="1" height="22" fill="#00ff00"/><rect x="563" y="210" width="3" height="2" fill="#00ff00"/>
<rect x="568" y="189" width="1" height="57" fill="#00ff00"/><rect x="567" y="210" width="3" height="30" fill="#00ff00"/>
<rect x="572" y="224" width="1" height="41" fill="#ff0000"/><rect x="571" y="237" width="3" height="4" fill="#ff0000"/>
<rect x="576" y="173" width="1" height="73" fill="#ff0000"/><rect x="575" y="202" width="3" height="38" fill="#ff0000"/>
<rect x="580" y="199" width="1" height="37" fill="#00ff00"/><rect x="579" y="202" width="3" height="29" fill="#00ff00"/>
<rect x="584" y="219" width="1" height="33" fill="#00ff00"/><rect x="583" y="225" width="3" height="16" fill="#00ff00"/>
<rect x="588" y="232" width="1" height="36" fill="#00ff00"/><rect x="587" y="235" width="3" height="8" fill="#00ff00"/>
<rect x="592" y="240" width="1" height="60" fill="#00ff00"/><rect x="591" y="243" width="3" height="8" fill="#00ff00"/>
<rect x="596" y="182" width="1" height="71" fill="#ff0000"/><rect x="595" y="206" width="3" height="45" fill="#ff0000"/>
<rect x="600" y="194" width="1" height="40" fill="#00ff00"/><rect x="599" y="206" width="3" height="16" fill="#00ff00"/>
<rect x="604" y="219" width="1" height="22" fill="#00ff00"/><rect x="603" y="219" width="3" height="13" fill="#00ff00"/>
<rect x="608" y="222" width="1" height="20" fill="#ff0000"/><rect x="607" y="233" width="3" height="2" fill="#ff0000"/>
<rect x="612" y="200" width="1" height="38" fill="#ff0000"/><rect x="611" y="204" width="3" height="31" fill="#ff0000"/>
<rect x="616" y="146" width="1" height="65" fill="#ff0000"/><rect x="615" y="156" width="3" height="51" fill="#ff0000"/>
<rect x="620" y="156" width="1" height="40" fill="#00ff00"/><rect x="619" y="156" width="3" height="23" fill="#00ff00"/>
<rect x="624" y="131" width="1" height="56" fill="#ff0000"/><rect x="623" y="164" width="3" height="15" fill="#ff0000"/>
<rect x="628" y="155" width="1" height="18" fill="#00ff00"/><rect x="627" y="164" width="3" height="4" fill="#00ff00"/>
<rect x="632" y="163" width="1" height="48" fill="#00ff00"/><rect x="631" y="164" width="3" height="43" fill="#00ff00"/>
<rect x="636" y="200" width="1" height="53" fill="#00ff00"/><rect x="635" y="206" width="3" height="46" fill="#00ff00"/>
<rect x="640" y="245" width="1" height="50" fill="#00ff00"/><rect x="639" y="249" width="3" height="10" fill="#00ff00"/>
<rect x="644" y="240" width="1" height="56" fill="#00ff00"/><rect x="643" y="257" width="3" height="29" fill="#00ff00"/>
<rect x="648" y="280" width="1" height="95" fill="#00ff00"/><rect x="647" y="285" width="3" height="72" fill="#00ff00"/>
<rect x="652" y="351" width="1" height="27" fill="#00ff00"/><rect x="651" y="356" width="3" height="20" fill="#00ff00"/>
<rect x="656" y="360" width="1" height="26" fill="#00ff00"/><rect x="655" y="362" width="3" height="16" fill="#00ff00"/>
<rect x="660" y="351" width="1" height="36" fill="#ff0000"/><rect x="659" y="351" width="3" height="27" fill="#ff0000"/>
<rect x="664" y="338" width="1" height="22" fill="#ff0000"/><rect x="663" y="346" width="3" height="7" fill="#ff0000"/>
<rect x="668" y="309" width="1" height="44" fill="#ff0000"/><rect x="667" y="320" width="3" height="32" fill="#ff0000"/>
<rect x="672" y="275" width="1" height="61" fill="#ff0000"/><rect x="671" y="278" width="3" height="55" fill="#ff0000"/>
<rect x="676" y="249" width="1" height="32" fill="#ff0000"/><rect x="675" y="250" width="3" height="30" fill="#ff0000"/>
<rect x="680" y="250" width="1" height="22" fill="#00ff00"/><rect x="679" y="257" width="3" height="10" fill="#00ff00"/>
<rect x="684" y="238" width="1" height="33" fill="#00ff00"/><rect x="683" y="266" width="3" height="3" fill="#00ff00"/>
<rect x="688" y="267" width="1" height="49" fill="#00ff00"/><rect x="687" y="267" width="3" height="29" fill="#00ff00"/>
<rect x="692" y="294" width="1" height="172" fill="#00ff00"/><rect x="691" y="295" width="3" height="125" fill="#00ff00"/>
<rect x="696" y="404" width="1" height="55" fill="#ff0000"/><rect x="695" y="411" width="3" height="9" fill="#ff0000"/>
<rect x="700" y="402" width="1" height="24" fill="#00ff00"/><rect x="699" y="411" width="3" height="10" fill="#00ff00"/>
<rect x="704" y="414" width="1" height="31" fill="#00ff00"/><rect x="703" y="419" width="3" height="10" fill="#00ff00"/>
<rect x="708" y="420" width="1" height="46" fill="#00ff00"/><rect x="707" y="428" width="3" height="29" fill="#00ff00"/>
<rect x="712" y="419" width="1" height="83" fill="#00ff00"/><rect x="711" y="455" width="3" height="46" fill="#00ff00"/>
<rect x="716" y="476" width="1" height="27" fill="#ff0000"/><rect x="715" y="494" width="3" height="8" fill="#ff0000"/>
<rect x="720" y="493" width="1" height="48" fill="#00ff00"/><rect x="719" y="494" width="3" height="22" fill="#00ff00"/>
<rect x="724" y="506" width="1" height="19" fill="#00ff00"/><rect x="723" y="514" width="3" height="10" fill="#00ff00"/>
<rect x="728" y="483" width="1" height="39" fill="#ff0000"/><rect x="727" y="487" width="3" height="30" fill="#ff0000"/>
<rect x="732" y="470" width="1" height="32" fill="#00ff00"/><rect x="731" y="487" width="3" height="6" fill="#00ff00"/>
<rect x="736" y="490" width="1" height="48" fill="#00ff00"/><rect x="735" y="492" width="3" height="41" fill="#00ff00"/>
<rect x="740" y="523" width="1" height="36" fill="#00ff00"/><rect x="739" y="532" width="3" height="13" fill="#00ff00"/>
<rect x="744" y="498" width="1" height="55" fill="#ff0000"/><rect x="743" y="500" width="3" height="46" fill="#ff0000"/>
<rect x="748" y="500" width="1" height="23" fill="#00ff00"/><rect x="747" y="500" width="3" height="21" fill="#00ff00"/>
<rect x="752" y="508" width="1" height="42" fill="#ff0000"/><rect x="751" y="515" width="3" height="12" fill="#ff0000"/>
<rect x="756" y="475" width="1" height="46" fill="#ff0000"/><rect x="755" y="488" width="3" height="29" fill="#ff0000"/>
<rect x="760" y="474" width="1" height="59" fill="#00ff00"/><rect x="759" y="488" width="3" height="21" fill="#00ff00"/>
<rect x="764" y="502" width="1" height="54" fill="#00ff00"/><rect x="763" y="506" width="3" height="26" fill="#00ff00"/>
<rect x="768" y="525" width="1" height="50" fill="#00ff00"/><rect x="767" y="530" width="3" height="25" fill="#00ff00"/>
<rect x="772" y="550" width="1" height="17" fill="#00ff00"/><rect x="771" y="554" width="3" height="9" fill="#00ff00"/>
<rect x="776" y="546" width="1" height="27" fill="#ff0000"/><rect x="775" y="558" width="3" height="8" fill="#ff0000"/>
<rect x="780" y="535" width="1" height="36" fill="#ff0000"/><rect x="779" y="552" width="3" height="8" fill="#ff0000"/>
<rect x="784" y="512" width="1" height="47" fill="#00ff00"/><rect x="783" y="552" width="3" height="3" fill="#00ff00"/>
<rect x="788" y="510" width="1" height="50" fill="#ff0000"/><rect x="787" y="515" width="3" height="39" fill="#ff0000"/>
<rect x="792" y="499" width="1" height="76" fill="#00ff00"/><rect x="791" y="515" width="3" height="8" fill="#00ff00"/>
<rect x="796" y="520" width="1" height="26" fill="#00ff00"/><rect x="795" y="521" width="3" height="21" fill="#00ff00"/>
<rect x="800" y="492" width="1" height="65" fill="#ff0000"/><rect x="799" y="494" width="3" height="52" fill="#ff0000"/>
<rect x="804" y="455" width="1" height="51" fill="#ff0000"/><rect x="803" y="476" width="3" height="20" fill="#ff0000"/>
<rect x="808" y="468" width="1" height="25" fill="#00ff00"/><rect x="807" y="475" width="3" height="5" fill="#00ff00"/>
<rect x="812" y="464" width="1" height="32" fill="#ff0000"/><rect x="811" y="470" width="3" height="9" fill="#ff0000"/>
<rect x="816" y="427" width="1" height="49" fill="#ff0000"/><rect x="815" y="436" width="3" height="36" fill="#ff0000"/>
<rect x="820" y="435" width="1" height="17" fill="#00ff00"/><rect x="819" y="436" width="3" height="15" fill="#00ff00"/>
<rect x="824" y="440" width="1" height="29" fill="#00ff00"/><rect x="823" y="453" width="3" height="15" fill="#00ff00"/>
<rect x="828" y="432" width="1" height="39" fill="#ff0000"/><rect x="827" y="450" width="3" height="17" fill="#ff0000"/>
<rect x="832" y="446" width="1" height="58" fill="#00ff00"/><rect x="831" y="451" width="3" height="22" fill="#00ff00"/>
<rect x="836" y="388" width="1" height="95" fill="#ff0000"/><rect x="835" y="422" width="3" height="51" fill="#ff0000"/>
<rect x="840" y="373" width="1" height="68" fill="#ff0000"/><rect x="839" y="411" width="3" height="13" fill="#ff0000"/>
<rect x="844" y="407" width="1" height="21" fill="#00ff00"/><rect x="843" y="412" width="3" height="7" fill="#00ff00"/>
<rect x="848" y="388" width="1" height="58" fill="#00ff00"/><rect x="847" y="423" width="3" height="8" fill="#00ff00"/>
<rect x="852" y="370" width="1" height="70" fill="#ff0000"/><rect x="851" y="383" width="3" height="48" fill="#ff0000"/>
<rect x="856" y="309" width="1" height="76" fill="#ff0000"/><rect x="855" y="320" width="3" height="64" fill="#ff0000"/>
<rect x="860" y="311" width="1" height="87" fill="#00ff00"/><rect x="859" y="320" width="3" height="73" fill="#00ff00"/>
<rect x="864" y="366" width="1" height="56" fill="#00ff00"/><rect x="863" y="392" width="3" height="14" fill="#00ff00"/>
<rect x="868" y="400" width="1" height="25" fill="#00ff00"/><rect x="867" y="404" width="3" height="15" fill="#00ff00"/>
<rect x="872" y="385" width="1" height="36" fill="#ff0000"/><rect x="871" y="400" width="3" height="17" fill="#ff0000"/>
<rect x="876" y="351" width="1" height="89" fill="#00ff00"/><rect x="875" y="400" width="3" height="10" fill="#00ff00"/>
<rect x="880" y="328" width="1" height="91" fill="#ff0000"/><rect x="879" y="329" width="3" height="80" fill="#ff0000"/>
<rect x="884" y="314" width="1" height="43" fill="#ff0000"/><rect x="883" y="327" width="3" height="3" fill="#ff0000"/>
<rect x="888" y="316" width="1" height="50" fill="#00ff00"/><rect x="887" y="327" width="3" height="35" fill="#00ff00"/>
<rect x="892" y="357" width="1" height="20" fill="#00ff00"/><rect x="891" y="361" width="3" height="10" fill="#00ff00"/>
<rect x="896" y="337" width="1" height="48" fill="#ff0000"/><rect x="895" y="342" width="3" height="29" fill="#ff0000"/>
<rect x="900" y="308" width="1" height="38" fill="#ff0000"/><rect x="899" y="320" width="3" height="23" fill="#ff0000"/>
<rect x="904" y="318" width="1" height="65" fill="#00ff00"/><rect x="903" y="320" width="3" height="44" fill="#00ff00"/>
<rect x="908" y="333" width="1" height="40" fill="#ff0000"/><rect x="907" y="341" width="3" height="23" fill="#ff0000"/>
<rect x="912" y="314" width="1" height="50" fill="#ff0000"/><rect x="911" y="329" width="3" height="22" fill="#ff0000"/>
<rect x="916" y="323" width="1" height="34" fill="#00ff00"/><rect x="915" y="329" width="3" height="23" fill="#00ff00"/>
<rect x="920" y="330" width="1" height="44" fill="#00ff00"/><rect x="919" y="331" width="3" height="27" fill="#00ff00"/>
<rect x="924" y="359" width="1" height="48" fill="#00ff00"/><rect x="923" y="359" width="3" height="7" fill="#00ff00"/>
<rect x="928" y="330" width="1" height="41" fill="#ff0000"/><rect x="927" y="345" width="3" height="22" fill="#ff0000"/>
<rect x="932" y="330" width="1" height="31" fill="#00ff00"/><rect x="931" y="344" width="3" height="4" fill="#00ff00"/>
<rect x="936" y="336" width="1" height="52" fill="#00ff00"/><rect x="935" y="345" width="3" height="10" fill="#00ff00"/>
<rect x="940" y="318" width="1" height="39" fill="#ff0000"/><rect x="939" y="328" width="3" height="27" fill="#ff0000"/>
<rect x="944" y="296" width="1" height="41" fill="#ff0000"/><rect x="943" y="329" width="3" height="4" fill="#ff0000"/>
<rect x="948" y="278" width="1" height="55" fill="#ff0000"/><rect x="947" y="319" width="3" height="12" fill="#ff0000"/>
<rect x="952" y="309" width="1" height="87" fill="#00ff00"/><rect x="951" y="319" width="3" height="69" fill="#00ff00"/>
<rect x="956" y="384" width="1" height="50" fill="#00ff00"/><rect x="955" y="388" width="3" height="8" fill="#00ff00"/>
<rect x="960" y="389" width="1" height="70" fill="#00ff00"/><rect x="959" y="394" width="3" height="58" fill="#00ff00"/>
<rect x="964" y="443" width="1" height="18" fill="#ff0000"/><rect x="963" y="447" width="3" height="5" fill="#ff0000"/>
<rect x="968" y="446" width="1" height="33" fill="#00ff00"/><rect x="967" y="449" width="3" height="27" fill="#00ff00"/>
<rect x="972" y="433" width="1" height="49" fill="#ff0000"/><rect x="971" y="460" width="3" height="15" fill="#ff0000"/>
<rect x="976" y="424" width="1" height="56" fill="#ff0000"/><rect x="975" y="427" width="3" height="46" fill="#ff0000"/>
<rect x="980" y="412" width="1" height="20" fill="#ff0000"/><rect x="979" y="419" width="3" height="9" fill="#ff0000"/>
<rect x="984" y="370" width="1" height="56" fill="#ff0000"/><rect x="983" y="371" width="3" height="50" fill="#ff0000"/>
<rect x="988" y="359" width="1" height="19" fill="#ff0000"/><rect x="987" y="360" width="3" height="13" fill="#ff0000"/>
<rect x="992" y="372" width="1" height="49" fill="#ff0000"/><rect x="991" y="375" width="3" height="44" fill="#ff0000"/>
<rect x="996" y="346" width="1" height="53" fill="#ff0000"/><rect x="995" y="375" width="3" height="20" fill="#ff0000"/>
<rect x="1000" y="356" width="1" height="45" fill="#ff0000"/><rect x="999" y="358" width="3" height="31" fill="#ff0000"/>
<rect x="1004" y="337" width="1" height="51" fill="#00ff00"/><rect x="1003" y="358" width="3" height="19" fill="#00ff00"/>
<rect x="1008" y="345" width="1" height="49" fill="#ff0000"/><rect x="1007" y="375" width="3" height="4" fill="#ff0000"/>
<rect x="1012" y="363" width="1" height="13" fill="#ff0000"/><rect x="1011" y="364" width="3" height="7" fill="#ff0000"/>
<rect x="1016" y="341" width="1" height="43" fill="#ff0000"/><rect x="1015" y="366" width="3" height="3" fill="#ff0000"/>
<rect x="1020" y="362" width="1" height="29" fill="#00ff00"/><rect x="1019" y="369" width="3" height="20" fill="#00ff00"/>
<rect x="1024" y="355" width="1" height="46" fill="#ff0000"/><rect x="1023" y="362" width="3" height="22" fill="#ff0000"/>
<rect x="1028" y="361" width="1" height="40" fill="#00ff00"/><rect x="1027" y="370" width="3" height="16" fill="#00ff00"/>
<rect x="1032" y="363" width="1" height="53" fill="#00ff00"/><rect x="1031" y="370" width="3" height="15" fill="#00ff00"/>
<rect x="1036" y="375" width="1" height="17" fill="#00ff00"/><rect x="1035" y="384" width="3" height="7" fill="#00ff00"/>
<rect x="1040" y="385" width="1" height="24" fill="#ff0000"/><rect x="1039" y="391" width="3" height="8" fill="#ff0000"/>
<rect x="1044" y="353" width="1" height="48" fill="#00ff00"/><rect x="1043" y="384" width="3" height="17" fill="#00ff00"/>
<rect x="1048" y="330" width="1" height="94" fill="#ff0000"/><rect x="1047" y="334" width="3" height="65" fill="#ff0000"/>
<rect x="1052" y="307" width="1" height="34" fill="#ff0000"/><rect x="1051" y="326" width="3" height="9" fill="#ff0000"/>
<rect x="1056" y="309" width="1" height="38" fill="#ff0000"/><rect x="1055" y="319" width="3" height="8" fill="#ff0000"/>
<rect x="1060" y="320" width="1" height="13" fill="#00ff00"/><rect x="1059" y="320" width="3" height="7" fill="#00ff00"/>
<rect x="1064" y="320" width="1" height="35" fill="#00ff00"/><rect x="1063" y="336" width="3" height="7" fill="#00ff00"/>
<rect x="1068" y="316" width="1" height="40" fill="#ff0000"/><rect x="1067" y="319" width="3" height="24" fill="#ff0000"/>
<rect x="1072" y="317" width="1" height="33" fill="#00ff00"/><rect x="1071" y="320" width="3" height="5" fill="#00ff00"/>
<rect x="1076" y="308" width="1" height="61" fill="#00ff00"/><rect x="1075" y="323" width="3" height="44" fill="#00ff00"/>
<rect x="1080" y="345" width="1" height="105" fill="#00ff00"/><rect x="1079" y="365" width="3" height="78" fill="#00ff00"/>
<rect x="1084" y="428" width="1" height="17" fill="#ff0000"/><rect x="1083" y="440" width="3" height="3" fill="#ff0000"/>
<rect x="1088" y="397" width="1" height="37" fill="#ff0000"/><rect x="1087" y="403" width="3" height="30" fill="#ff0000"/>
<rect x="1092" y="394" width="1" height="35" fill="#00ff00"/><rect x="1091" y="403" width="3" height="25" fill="#00ff00"/>
<rect x="1096" y="402" width="1" height="39" fill="#00ff00"/><rect x="1095" y="410" width="3" height="25" fill="#00ff00"/>
<rect x="1100" y="417" width="1" height="66" fill="#00ff00"/><rect x="1099" y="425" width="3" height="53" fill="#00ff00"/>
<rect x="1104" y="470" width="1" height="16" fill="#00ff00"/><rect x="1103" y="477" width="3" height="3" fill="#00ff00"/>
<rect x="1108" y="470" width="1" height="22" fill="#00ff00"/><rect x="1107" y="479" width="3" height="12" fill="#00ff00"/>
<rect x="1112" y="482" width="1" height="28" fill="#00ff00"/><rect x="1111" y="482" width="3" height="27" fill="#00ff00"/>
<rect x="1116" y="488" width="1" height="44" fill="#00ff00"/><rect x="1115" y="507" width="3" height="13" fill="#00ff00"/>
<rect x="1120" y="500" width="1" height="26" fill="#ff0000"/><rect x="1119" y="515" width="3" height="5" fill="#ff0000"/>
<rect x="1124" y="513" width="1" height="34" fill="#00ff00"/><rect x="1123" y="517" width="3" height="9" fill="#00ff00"/>
<rect x="1128" y="524" width="1" height="18" fill="#00ff00"/><rect x="1127" y="524" width="3" height="13" fill="#00ff00"/>
<rect x="1132" y="529" width="1" height="12" fill="#00ff00"/><rect x="1131" y="536" width="3" height="4" fill="#00ff00"/>
<rect x="1136" y="524" width="1" height="26" fill="#ff0000"/><rect x="1135" y="537" width="3" height="4" fill="#ff0000"/>
<rect x="1140" y="524" width="1" height="29" fill="#ff0000"/><rect x="1139" y="524" width="3" height="14" fill="#ff0000"/>
<rect x="1144" y="438" width="1" height="91" fill="#ff0000"/><rect x="1143" y="442" width="3" height="83" fill="#ff0000"/>
<rect x="1148" y="419" width="1" height="61" fill="#00ff00"/><rect x="1147" y="442" width="3" height="36" fill="#00ff00"/>
<rect x="1152" y="429" width="1" height="47" fill="#ff0000"/><rect x="1151" y="470" width="3" height="2" fill="#ff0000"/>
<rect x="1156" y="461" width="1" height="17" fill="#ff0000"/><rect x="1155" y="470" width="3" height="2" fill="#ff0000"/>
<rect x="1160" y="458" width="1" height="25" fill="#ff0000"/><rect x="1159" y="474" width="3" height="3" fill="#ff0000"/>
<rect x="1164" y="457" width="1" height="38" fill="#ff0000"/><rect x="1163" y="459" width="3" height="18" fill="#ff0000"/>
<rect x="1168" y="438" width="1" height="39" fill="#ff0000"/><rect x="1167" y="445" width="3" height="17" fill="#ff0000"/>
<rect x="1172" y="428" width="1" height="33" fill="#00ff00"/><rect x="1171" y="443" width="3" height="16" fill="#00ff00"/>
<rect x="1176" y="396" width="1" height="55" fill="#ff0000"/><rect x="1175" y="414" width="3" height="34" fill="#ff0000"/>
<rect x="1180" y="403" width="1" height="16" fill="#ff0000"/><rect x="1179" y="404" width="3" height="12" fill="#ff0000"/>
<rect x="1184" y="398" width="1" height="18" fill="#00ff00"/><rect x="1183" y="406" width="3" height="10" fill="#00ff00"/>
<rect x="1188" y="379" width="1" height="40" fill="#ff0000"/><rect x="1187" y="401" width="3" height="15" fill="#ff0000"/>
<rect x="1192" y="371" width="1" height="44" fill="#ff0000"/><rect x="1191" y="391" width="3" height="13" fill="#ff0000"/>
<rect x="1196" y="370" width="1" height="28" fill="#ff0000"/><rect x="1195" y="382" width="3" height="10" fill="#ff0000"/>
<rect x="1200" y="376" width="1" height="37" fill="#00ff00"/><rect x="1199" y="380" width="3" height="30" fill="#00ff00"/>
<rect x="1204" y="396" width="1" height="17" fill="#ff0000"/><rect x="1203" y="399" width="3" height="11" fill="#ff0000"/>
<rect x="1208" y="397" width="1" height="22" fill="#00ff00"/><rect x="1207" y="408" width="3" height="8" fill="#00ff00"/>
<rect x="1212" y="369" width="1" height="65" fill="#ff0000"/><rect x="1211" y="403" width="3" height="13" fill="#ff0000"/>
<rect x="1216" y="333" width="1" height="76" fill="#ff0000"/><rect x="1215" y="348" width="3" height="59" fill="#ff0000"/>
<rect x="1220" y="324" width="1" height="47" fill="#00ff00"/><rect x="1219" y="348" width="3" height="16" fill="#00ff00"/>
<rect x="1224" y="349" width="1" height="34" fill="#ff0000"/><rect x="1223" y="355" width="3" height="9" fill="#ff0000"/>
<rect x="1228" y="347" width="1" height="11" fill="#ff0000"/><rect x="1227" y="350" width="3" height="6" fill="#ff0000"/>
<rect x="1232" y="333" width="1" height="25" fill="#ff0000"/><rect x="1231" y="335" width="3" height="17" fill="#ff0000"/>
<rect x="1236" y="330" width="1" height="26" fill="#00ff00"/><rect x="1235" y="335" width="3" height="18" fill="#00ff00"/>
<rect x="1240" y="350" width="1" height="29" fill="#00ff00"/><rect x="1239" y="352" width="3" height="7" fill="#00ff00"/>
<rect x="1244" y="346" width="1" height="21" fill="#ff0000"/><rect x="1243" y="354" width="3" height="6" fill="#ff0000"/>
<rect x="1248" y="334" width="1" height="30" fill="#00ff00"/><rect x="1247" y="354" width="3" height="7" fill="#00ff00"/>
<rect x="1252" y="351" width="1" height="13" fill="#00ff00"/><rect x="1251" y="360" width="3" height="3" fill="#00ff00"/>
<rect x="1256" y="340" width="1" height="25" fill="#ff0000"/><rect x="1255" y="340" width="3" height="21" fill="#ff0000"/>
<rect x="1260" y="328" width="1" height="25" fill="#00ff00"/><rect x="1259" y="340" width="3" height="11" fill="#00ff00"/>
<rect x="1264" y="341" width="1" height="72" fill="#00ff00"/><rect x="1263" y="349" width="3" height="52" fill="#00ff00"/>
<rect x="1268" y="399" width="1" height="63" fill="#00ff00"/><rect x="1267" y="400" width="3" height="41" fill="#00ff00"/>
<rect x="1272" y="370" width="1" height="82" fill="#ff0000"/><rect x="1271" y="373" width="3" height="68" fill="#ff0000"/>
<rect x="1276" y="371" width="1" height="12" fill="#00ff00"/><rect x="1275" y="373" width="3" height="9" fill="#00ff00"/>
<rect x="1280" y="373" width="1" height="37" fill="#00ff00"/><rect x="1279" y="382" width="3" height="23" fill="#00ff00"/>
<rect x="1284" y="386" width="1" height="22" fill="#ff0000"/><rect x="1283" y="400" width="3" height="6" fill="#ff0000"/>
<rect x="1288" y="395" width="1" height="22" fill="#00ff00"/><rect x="1287" y="400" width="3" height="15" fill="#00ff00"/>
<rect x="1292" y="405" width="1" height="54" fill="#00ff00"/><rect x="1291" y="412" width="3" height="21" fill="#00ff00"/>
<rect x="1296" y="420" width="1" height="48" fill="#ff0000"/><rect x="1295" y="427" width="3" height="8" fill="#ff0000"/>
<rect x="1300" y="424" width="1" height="19" fill="#00ff00"/><rect x="1299" y="426" width="3" height="15" fill="#00ff00"/>
<rect x="1304" y="440" width="1" height="57" fill="#00ff00"/><rect x="1303" y="444" width="3" height="22" fill="#00ff00"/>
<rect x="1308" y="438" width="1" height="39" fill="#ff0000"/><rect x="1307" y="461" width="3" height="5" fill="#ff0000"/>
<rect x="1312" y="446" width="1" height="55" fill="#00ff00"/><rect x="1311" y="461" width="3" height="37" fill="#00ff00"/>
<rect x="1316" y="476" width="1" height="31" fill="#ff0000"/><rect x="1315" y="483" width="3" height="13" fill="#ff0000"/>
<rect x="1320" y="441" width="1" height="54" fill="#ff0000"/><rect x="1319" y="454" width="3" height="30" fill="#ff0000"/>
<rect x="1324" y="448" width="1" height="11" fill="#ff0000"/><rect x="1323" y="451" width="3" height="2" fill="#ff0000"/>
<rect x="1328" y="446" width="1" height="30" fill="#ff0000"/><rect x="1327" y="449" width="3" height="22" fill="#ff0000"/>
<rect x="1332" y="446" width="1" height="32" fill="#00ff00"/><rect x="1331" y="449" width="3" height="16" fill="#00ff00"/>
<rect x="1336" y="453" width="1" height="13" fill="#ff0000"/><rect x="1335" y="455" width="3" height="9" fill="#ff0000"/>
<rect x="1340" y="457" width="1" height="11" fill="#00ff00"/><rect x="1339" y="463" width="3" height="3" fill="#00ff00"/>
</g>
<polyline points="4.5,429.0 8.5,427.3 12.5,425.4 16.5,418.0 20.5,410.2 24.5,405.5 28.5,399.7 32.5,394.1 36.5,388.5 40.5,382.1 44.5,374.5 48.5,367.7 52.5,363.3 56.5,358.9 60.5,354.5 64.5,349.3 68.5,340.7 72.5,330.6 76.5,320.6 80.5,310.5 84.5,300.4 88.5,290.3 92.5,280.7 96.5,270.1 100.5,259.3 104.5,248.6 108.5,238.6 112.5,232.4 116.5,226.3 120.5,220.7 124.5,217.5 128.5,214.2 132.5,212.0 136.5,215.8 140.5,221.0 144.5,222.1 148.5,222.4 152.5,225.9 156.5,230.4 160.5,232.7 164.5,234.3 168.5,237.6 172.5,240.4 176.5,242.7 180.5,245.6 184.5,247.2 188.5,251.3 192.5,259.2 196.5,269.0 200.5,277.9 204.5,286.7 208.5,297.6 212.5,311.2 216.5,325.6 220.5,340.4 224.5,354.7 228.5,367.9 232.5,379.5 236.5,386.1 240.5,389.2 244.5,392.6 248.5,392.7 252.5,393.5 256.5,393.6 260.5,391.2 264.5,391.2 268.5,391.7 272.5,392.5 276.5,392.1 280.5,394.2 284.5,397.2 288.5,398.9 292.5,402.4 296.5,405.5 300.5,409.3 304.5,415.1 308.5,419.7 312.5,420.1 316.5,418.2 320.5,416.4 324.5,414.2 328.5,408.2 332.5,400.1 336.5,391.0 340.5,382.2 344.5,374.3 348.5,367.6 352.5,363.8 356.5,362.3 360.5,360.6 364.5,358.5 368.5,357.7 372.5,356.8 376.5,354.2 380.5,352.8 384.5,348.8 388.5,344.2 392.5,339.3 396.5,335.8 400.5,328.7 404.5,322.2 408.5,317.6 412.5,311.8 416.5,307.1 420.5,302.8 424.5,298.2 428.5,293.0 432.5,289.2 436.5,286.8 440.5,286.9 444.5,287.6 448.5,290.2 452.5,291.8 456.5,294.6 460.5,296.7 464.5,297.8 468.5,298.7 472.5,297.9 476.5,296.3 480.5,295.4 484.5,294.3 488.5,294.0 492.5,290.5 496.5,286.8 500.5,283.4 504.5,282.0 508.5,280.8 512.5,280.0 516.5,279.0 520.5,279.5 524.5,278.3 528.5,276.4 532.5,274.4 536.5,271.7 540.5,268.5 544.5,264.6 548.5,261.0 552.5,259.9 556.5,259.0 560.5,254.9 564.5,251.0 568.5,248.1 572.5,246.6 576.5,242.7 580.5,239.8 584.5,238.3 588.5,236.1 592.5,234.3 596.5,231.7 600.5,229.4 604.5,227.9 608.5,225.5 612.5,224.2 616.5,222.3 620.5,222.0 624.5,220.2 628.5,218.6 632.5,218.0 636.5,218.2 640.5,218.5 644.5,221.0 648.5,224.8 652.5,229.2 656.5,234.2 660.5,239.1 664.5,243.4 668.5,247.7 672.5,249.0 676.5,249.1 680.5,250.9 684.5,252.8 688.5,254.7 692.5,260.8 696.5,267.8 700.5,274.1 704.5,280.4 708.5,287.5 712.5,295.8 716.5,305.4 720.5,315.2 724.5,325.0 728.5,333.4 732.5,343.1 736.5,355.6 740.5,367.8 744.5,379.0 748.5,390.8 752.5,401.1 756.5,409.0 760.5,417.3 764.5,425.5 768.5,432.1 772.5,438.3 776.5,444.3 780.5,451.1 784.5,458.0 788.5,464.5 792.5,472.6 796.5,482.3 800.5,490.0 804.5,496.9 808.5,503.0 812.5,504.7 816.5,505.5 820.5,506.5 824.5,507.8 828.5,507.6 832.5,506.7 836.5,504.3 840.5,500.8 844.5,497.3 848.5,495.4 852.5,491.7 856.5,484.7 860.5,479.6 864.5,476.4 868.5,473.0 872.5,469.2 876.5,466.6 880.5,460.6 884.5,453.8 888.5,447.4 892.5,441.0 896.5,433.8 900.5,426.0 904.5,419.7 908.5,413.9 912.5,407.5 916.5,401.1 920.5,396.6 924.5,392.9 928.5,388.4 932.5,384.3 936.5,381.6 940.5,377.5 944.5,372.9 948.5,368.6 952.5,365.7 956.5,364.8 960.5,366.1 964.5,367.1 968.5,368.6 972.5,371.2 976.5,374.8 980.5,375.7 984.5,374.5 988.5,372.6 992.5,371.8 996.5,370.7 1000.5,371.6 1004.5,373.2 1008.5,373.7 1012.5,373.5 1016.5,374.3 1020.5,376.6 1024.5,376.5 1028.5,378.0 1032.5,379.8 1036.5,381.1 1040.5,382.3 1044.5,383.4 1048.5,383.1 1052.5,382.4 1056.5,381.2 1060.5,381.2 1064.5,381.6 1068.5,381.6 1072.5,379.5 1076.5,378.5 1080.5,378.2 1084.5,378.0 1088.5,375.6 1092.5,374.5 1096.5,374.7 1100.5,376.6 1104.5,380.2 1108.5,384.6 1112.5,389.0 1116.5,393.8 1120.5,399.0 1124.5,404.0 1128.5,409.3 1132.5,415.2 1136.5,420.8 1140.5,425.4 1144.5,428.1 1148.5,431.1 1152.5,434.0 1156.5,436.7 1160.5,439.4 1164.5,441.4 1168.5,445.1 1172.5,449.5 1176.5,452.6 1180.5,455.2 1184.5,457.7 1188.5,460.4 1192.5,462.6 1196.5,463.2 1200.5,462.1 1204.5,460.7 1208.5,461.1 1212.5,460.4 1216.5,457.5 1220.5,453.7 1224.5,449.6 1228.5,444.9 1232.5,439.1 1236.5,433.6 1240.5,428.4 1244.5,422.7 1248.5,416.8 1252.5,410.9 1256.5,404.4 1260.5,398.6 1264.5,397.2 1268.5,395.9 1272.5,392.7 1276.5,389.7 1280.5,387.4 1284.5,385.4 1288.5,384.4 1292.5,383.5 1296.5,383.9 1300.5,385.1 1304.5,386.8 1308.5,388.8 1312.5,392.3 1316.5,395.7 1320.5,397.2 1324.5,398.9 1328.5,400.1 1332.5,402.1 1336.5,405.6 1340.5,409.0" fill="none" stroke="#0000ff" stroke-width="1" stroke-linejoin="round"/>
<polyline points="4.5,390.7 8.5,384.4 12.5,377.7 16.5,369.7 20.5,362.0 24.5,359.1 28.5,354.5 32.5,350.0 36.5,340.2 40.5,332.7 44.5,329.4 48.5,326.3 52.5,321.1 56.5,318.6 60.5,309.0 64.5,296.0 68.5,279.5 72.5,269.4 76.5,259.8 80.5,242.9 84.5,225.1 88.5,212.8 92.5,199.7 96.5,182.4 100.5,165.9 104.5,149.7 108.5,135.3 112.5,122.0 116.5,118.3 120.5,119.9 124.5,125.6 128.5,139.4 132.5,156.8 136.5,176.9 140.5,197.7 144.5,218.0 148.5,239.4 152.5,260.7 156.5,283.5 160.5,306.8 164.5,325.7 168.5,346.3 172.5,360.3 176.5,365.8 180.5,369.1 184.5,366.7 188.5,363.8 192.5,362.5 196.5,362.6 200.5,362.4 204.5,362.9 208.5,366.5 212.5,372.8 216.5,381.4 220.5,393.4 224.5,400.7 228.5,408.4 232.5,415.1 236.5,419.4 240.5,424.2 244.5,428.3 248.5,425.3 252.5,423.6 256.5,425.0 260.5,421.7 264.5,418.5 268.5,412.0 272.5,404.0 276.5,394.2 280.5,391.4 284.5,388.4 288.5,387.8 292.5,395.1 296.5,400.9 300.5,405.0 304.5,414.7 308.5,420.0 312.5,419.4 316.5,420.4 320.5,416.6 324.5,410.9 328.5,400.3 332.5,390.0 336.5,374.6 340.5,361.4 344.5,348.1 348.5,334.0 352.5,325.6 356.5,318.7 360.5,307.6 364.5,297.2 368.5,291.6 372.5,292.0 376.5,291.7 380.5,290.2 384.5,291.1 388.5,292.3 392.5,293.3 396.5,294.7 400.5,293.7 404.5,291.1 408.5,288.8 412.5,286.8 416.5,286.2 420.5,285.5 424.5,287.2 428.5,283.5 432.5,280.0 436.5,278.8 440.5,284.0 444.5,289.5 448.5,295.1 452.5,295.7 456.5,301.5 460.5,306.6 464.5,305.7 468.5,306.0 472.5,305.8 476.5,304.7 480.5,301.5 484.5,299.9 488.5,302.0 492.5,300.0 496.5,291.4 500.5,281.4 504.5,273.5 508.5,268.7 512.5,262.1 516.5,256.9 520.5,254.3 524.5,247.3 528.5,242.9 532.5,239.8 536.5,235.5 540.5,230.3 544.5,224.1 548.5,220.2 552.5,222.3 556.5,226.4 560.5,226.0 564.5,225.7 568.5,226.7 572.5,226.2 576.5,222.7 580.5,224.2 584.5,224.0 588.5,224.0 592.5,225.7 596.5,225.8 600.5,226.1 604.5,229.0 608.5,228.4 612.5,225.4 616.5,221.6 620.5,219.2 624.5,213.8 628.5,208.8 632.5,209.1 636.5,210.6 640.5,211.9 644.5,214.9 648.5,222.5 652.5,234.6 656.5,245.7 660.5,254.4 664.5,262.4 668.5,270.7 672.5,279.4 676.5,284.5 680.5,291.8 684.5,299.0 688.5,305.4 692.5,317.4 696.5,328.3 700.5,338.0 704.5,343.2 708.5,348.9 712.5,357.7 716.5,367.9 720.5,379.9 724.5,394.5 728.5,409.4 732.5,426.8 736.5,445.7 740.5,465.5 744.5,480.1 748.5,487.3 752.5,494.7 756.5,499.6 760.5,505.3 764.5,510.6 768.5,514.5 772.5,519.4 776.5,522.4 780.5,524.5 784.5,529.3 788.5,530.9 792.5,530.2 796.5,530.0 800.5,529.6 804.5,526.4 808.5,523.8 812.5,522.6 816.5,517.4 820.5,511.6 824.5,505.4 828.5,497.4 832.5,491.2 836.5,481.9 840.5,471.7 844.5,464.7 848.5,458.2 852.5,446.9 856.5,434.5 860.5,428.5 864.5,423.2 868.5,419.5 872.5,416.9 876.5,414.0 880.5,404.2 884.5,395.4 888.5,387.5 892.5,383.8 896.5,378.8 900.5,371.9 904.5,367.1 908.5,364.1 912.5,364.7 916.5,361.8 920.5,358.4 924.5,354.7 928.5,350.7 932.5,346.3 936.5,348.0 940.5,348.1 944.5,345.8 948.5,342.2 952.5,345.4 956.5,350.7 960.5,357.0 964.5,364.6 968.5,374.9 972.5,382.7 976.5,387.7 980.5,391.6 984.5,393.4 988.5,394.4 992.5,395.9 996.5,399.3 1000.5,401.3 1004.5,405.4 1008.5,404.6 1012.5,402.4 1016.5,396.3 1020.5,392.1 1024.5,384.0 1028.5,378.6 1032.5,375.6 1036.5,373.5 1040.5,375.0 1044.5,377.8 1048.5,374.9 1052.5,371.4 1056.5,368.6 1060.5,365.1 1064.5,362.7 1068.5,359.4 1072.5,356.5 1076.5,354.9 1080.5,360.6 1084.5,364.5 1088.5,365.8 1092.5,368.4 1096.5,371.5 1100.5,377.0 1104.5,387.4 1108.5,399.1 1112.5,412.6 1116.5,426.3 1120.5,438.7 1124.5,453.4 1128.5,468.5 1132.5,480.9 1136.5,487.7 1140.5,493.7 1144.5,496.5 1148.5,500.1 1152.5,502.7 1156.5,502.2 1160.5,501.8 1164.5,499.6 1168.5,495.1 1172.5,490.7 1176.5,483.5 1180.5,474.9 1184.5,466.2 1188.5,456.4 1192.5,446.0 1196.5,435.9 1200.5,433.6 1204.5,428.0 1208.5,424.0 1212.5,419.2 1216.5,410.2 1220.5,403.4 1224.5,397.0 1228.5,389.3 1232.5,383.7 1236.5,380.0 1240.5,375.9 1244.5,372.6 1248.5,370.4 1252.5,368.9 1256.5,364.0 1260.5,360.5 1264.5,359.4 1268.5,362.0 1272.5,363.7 1276.5,365.0 1280.5,368.5 1284.5,372.1 1288.5,377.7 1292.5,383.4 1296.5,388.3 1300.5,394.4 1304.5,401.9 1308.5,409.0 1312.5,420.2 1316.5,429.7 1320.5,433.6 1324.5,434.4 1328.5,439.8 1332.5,445.8 1336.5,449.4 1340.5,454.0" fill="none" stroke="#ff0000" stroke-width="1" stroke-linejoin="round"/>
<polyline points="4.5,346.2 8.5,366.8 12.5,382.1 16.5,368.4 20.5,349.0 24.5,346.4 28.5,331.5 32.5,301.7 36.5,296.0 40.5,311.1 44.5,301.2 48.5,286.8 52.5,289.8 56.5,296.0 60.5,277.9 64.5,268.0 68.5,248.2 72.5,219.2 76.5,184.2 80.5,161.3 84.5,133.2 88.5,115.0 92.5,101.0 96.5,94.3 100.5,85.6 104.5,75.5 108.5,72.8 112.5,78.4 116.5,98.4 120.5,139.2 124.5,180.8 128.5,230.6 132.5,281.8 136.5,325.6 140.5,351.0 144.5,373.8 148.5,381.1 152.5,385.0 156.5,384.1 160.5,381.1 164.5,374.3 168.5,377.6 172.5,377.3 176.5,369.7 180.5,355.4 184.5,345.5 188.5,330.9 192.5,331.9 196.5,342.0 200.5,354.9 204.5,370.3 208.5,392.5 212.5,412.8 216.5,433.7 220.5,461.0 224.5,483.5 228.5,494.8 232.5,488.0 236.5,461.6 240.5,431.8 244.5,408.4 248.5,379.2 252.5,365.9 256.5,370.6 260.5,363.2 264.5,365.0 268.5,375.5 272.5,378.8 276.5,374.9 280.5,398.7 284.5,410.4 288.5,420.3 292.5,436.7 296.5,450.4 300.5,446.4 304.5,452.8 308.5,456.1 312.5,438.5 316.5,417.9 320.5,397.5 324.5,364.9 328.5,323.5 332.5,292.8 336.5,270.4 340.5,255.9 344.5,244.3 348.5,251.1 352.5,269.9 356.5,289.8 360.5,302.1 364.5,313.7 368.5,319.8 372.5,323.9 376.5,321.9 380.5,316.4 384.5,306.4 388.5,294.6 392.5,274.2 396.5,264.4 400.5,254.0 404.5,251.2 408.5,260.3 412.5,271.3 416.5,278.4 420.5,290.9 424.5,308.6 428.5,308.8 432.5,302.9 436.5,295.7 440.5,302.3 444.5,301.1 448.5,306.8 452.5,308.4 456.5,317.4 460.5,314.3 464.5,305.9 468.5,302.0 472.5,306.6 476.5,300.0 480.5,294.3 484.5,292.6 488.5,291.6 492.5,279.6 496.5,264.9 500.5,244.9 504.5,232.6 508.5,215.3 512.5,211.3 516.5,217.6 520.5,230.2 524.5,228.7 528.5,234.2 532.5,237.6 536.5,234.3 540.5,225.2 544.5,226.7 548.5,216.1 552.5,215.9 556.5,219.6 560.5,220.7 564.5,219.6 568.5,229.4 572.5,228.5 576.5,219.8 580.5,223.7 584.5,229.5 588.5,230.2 592.5,232.9 596.5,233.7 600.5,231.9 604.5,230.0 608.5,228.1 612.5,218.9 616.5,208.9 620.5,200.3 624.5,186.9 628.5,173.7 632.5,174.0 636.5,193.0 640.5,209.1 644.5,233.4 648.5,271.2 652.5,305.1 656.5,330.3 660.5,348.9 664.5,361.1 668.5,353.9 672.5,334.4 676.5,308.9 680.5,291.7 684.5,276.1 688.5,271.1 692.5,299.5 696.5,331.8 700.5,362.7 704.5,394.8 708.5,427.0 712.5,443.1 716.5,459.6 720.5,478.5 724.5,497.5 728.5,503.8 732.5,502.3 736.5,509.8 740.5,515.7 744.5,511.0 748.5,517.7 752.5,522.2 756.5,513.4 760.5,506.2 764.5,512.3 768.5,519.1 772.5,528.6 776.5,542.6 780.5,551.5 784.5,556.1 788.5,548.3 792.5,540.2 796.5,536.9 800.5,525.2 804.5,509.5 808.5,502.3 812.5,492.0 816.5,470.9 820.5,462.0 824.5,460.2 828.5,454.5 832.5,454.9 836.5,452.1 840.5,444.4 844.5,434.5 848.5,430.4 852.5,412.6 856.5,392.3 860.5,388.5 864.5,386.0 868.5,383.6 872.5,387.0 876.5,404.7 880.5,392.1 884.5,376.6 888.5,365.3 892.5,359.3 896.5,345.8 900.5,344.0 904.5,351.3 908.5,347.2 912.5,339.1 916.5,341.0 920.5,348.4 924.5,348.7 928.5,349.6 932.5,353.1 936.5,353.5 940.5,347.6 944.5,340.5 948.5,335.3 952.5,343.3 956.5,351.6 960.5,376.2 964.5,399.7 968.5,430.9 972.5,445.5 976.5,452.0 980.5,445.7 984.5,430.4 988.5,407.5 992.5,390.5 996.5,380.0 1000.5,367.8 1004.5,368.9 1008.5,371.8 1012.5,369.6 1016.5,367.8 1020.5,373.7 1024.5,370.9 1028.5,372.9 1032.5,377.0 1036.5,381.9 1040.5,382.6 1044.5,390.2 1048.5,380.0 1052.5,368.4 1056.5,354.0 1060.5,341.1 1064.5,329.4 1068.5,326.4 1072.5,326.0 1076.5,335.3 1080.5,358.4 1084.5,378.1 1088.5,394.8 1092.5,415.3 1096.5,429.1 1100.5,436.2 1104.5,444.0 1108.5,461.5 1112.5,477.8 1116.5,494.6 1120.5,502.2 1124.5,511.2 1128.5,520.4 1132.5,526.6 1136.5,530.2 1140.5,532.0 1144.5,515.4 1148.5,503.7 1152.5,490.0 1156.5,476.7 1160.5,466.8 1164.5,470.3 1168.5,463.8 1172.5,461.2 1176.5,449.9 1180.5,435.9 1184.5,427.0 1188.5,418.2 1192.5,404.9 1196.5,398.6 1200.5,399.7 1204.5,396.5 1208.5,399.4 1212.5,401.8 1216.5,395.0 1220.5,385.8 1224.5,377.1 1228.5,364.0 1232.5,350.3 1236.5,351.1 1240.5,350.0 1244.5,349.9 1248.5,352.0 1252.5,357.4 1256.5,355.0 1260.5,353.3 1264.5,362.4 1268.5,378.2 1272.5,380.5 1276.5,388.6 1280.5,399.4 1284.5,399.6 1288.5,394.4 1292.5,406.2 1296.5,415.4 1300.5,422.5 1304.5,435.5 1308.5,445.0 1312.5,457.9 1316.5,469.2 1320.5,472.1 1324.5,469.2 1328.5,466.8 1332.5,460.2 1336.5,454.4 1340.5,456.7" fill="none" stroke="#ffa500" stroke-width="1" stroke-linejoin="round"/>
<polyline points="4.5,633.8 8.5,645.8 12.5,644.2 16.5,630.6 20.5,627.3 24.5,640.2 28.5,640.3 32.5,632.9 36.5,632.0 40.5,639.4 44.5,637.2 48.5,636.2 52.5,636.1 56.5,636.0 60.5,630.3 64.5,633.7 68.5,628.1 72.5,624.4 76.5,622.3 80.5,623.1 84.5,622.9 88.5,621.8 92.5,619.8 96.5,621.0 100.5,620.6 104.5,619.7 108.5,625.0 112.5,628.0 116.5,641.7 120.5,653.1 124.5,652.2 128.5,658.1 132.5,659.8 136.5,662.9 140.5,663.3 144.5,660.1 148.5,658.0 152.5,658.4 156.5,660.0 160.5,659.2 164.5,652.2 168.5,656.5 172.5,653.9 176.5,650.5 180.5,644.6 184.5,642.3 188.5,644.4 192.5,652.7 196.5,655.5 200.5,651.6 204.5,651.0 208.5,656.5 212.5,661.6 216.5,663.9 220.5,664.6 224.5,659.4 228.5,658.0 232.5,651.9 236.5,641.9 240.5,640.9 244.5,641.6 248.5,637.0 252.5,643.2 256.5,645.8 260.5,637.3 264.5,643.7 268.5,644.6 272.5,645.5 276.5,643.4 280.5,651.5 284.5,650.1 288.5,649.8 292.5,654.3 296.5,649.8 300.5,646.9 304.5,651.9 308.5,649.2 312.5,640.8 316.5,636.0 320.5,634.2 324.5,632.4 328.5,627.0 332.5,626.1 336.5,625.9 340.5,629.6 344.5,629.3 348.5,634.4 352.5,641.9 356.5,642.2 360.5,640.0 364.5,639.0 368.5,639.3 372.5,645.7 376.5,641.4 380.5,636.7 384.5,633.1 388.5,632.2 392.5,631.7 396.5,636.7 400.5,631.9 404.5,633.5 408.5,642.7 412.5,643.5 416.5,644.5 420.5,642.8 424.5,648.5 428.5,642.4 432.5,638.7 436.5,638.6 440.5,648.2 444.5,647.4 448.5,647.3 452.5,639.7 456.5,645.5 460.5,645.3 464.5,640.3 468.5,643.9 472.5,643.5 476.5,640.1 480.5,640.7 484.5,638.8 488.5,643.8 492.5,634.5 496.5,630.3 500.5,627.5 504.5,633.3 508.5,633.2 512.5,635.2 516.5,638.8 520.5,640.2 524.5,633.7 528.5,640.3 532.5,640.1 536.5,637.6 540.5,634.2 544.5,636.6 548.5,632.6 552.5,642.6 556.5,643.3 560.5,637.6 564.5,637.7 568.5,643.0 572.5,642.7 576.5,636.7 580.5,642.1 584.5,643.9 588.5,644.3 592.5,645.9 596.5,637.6 600.5,640.6 604.5,642.6 608.5,643.0 612.5,637.6 616.5,630.2 620.5,635.0 624.5,632.9 628.5,633.6 632.5,641.8 636.5,649.3 640.5,650.3 644.5,654.2 648.5,662.2 652.5,664.0 656.5,664.2 660.5,658.5 664.5,657.4 668.5,652.0 672.5,644.5 676.5,640.3 680.5,642.9 684.5,643.2 688.5,647.6 692.5,661.5 696.5,660.1 700.5,660.9 704.5,661.7 708.5,664.1 712.5,667.7 716.5,666.4 720.5,668.1 724.5,668.7 728.5,660.8 732.5,661.4 736.5,665.1 740.5,666.2 744.5,657.0 748.5,659.1 752.5,658.1 756.5,652.7 760.5,655.3 764.5,658.0 768.5,660.5 772.5,661.4 776.5,660.4 780.5,659.1 784.5,659.3 788.5,650.1 792.5,651.2 796.5,654.3 800.5,644.5 804.5,641.3 808.5,641.9 812.5,640.2 816.5,634.5 820.5,637.5 824.5,641.1 828.5,638.1 832.5,642.6 836.5,634.4 840.5,632.8 844.5,634.3 848.5,636.9 852.5,630.0 856.5,623.2 860.5,636.3 864.5,638.3 868.5,640.3 872.5,638.0 876.5,639.4 880.5,629.9 884.5,629.7 888.5,635.5 892.5,637.1 896.5,633.5 900.5,631.1 904.5,638.4 908.5,635.6 912.5,634.2 916.5,638.0 920.5,639.0 924.5,640.3 928.5,637.3 932.5,637.6 936.5,639.0 940.5,634.8 944.5,635.2 948.5,633.4 952.5,646.9 956.5,648.3 960.5,656.1 964.5,655.3 968.5,658.8 972.5,655.6 976.5,649.1 980.5,647.6 984.5,639.5 988.5,638.0 992.5,640.7 996.5,640.7 1000.5,637.8 1004.5,641.4 1008.5,641.2 1012.5,639.1 1016.5,639.6 1020.5,644.4 1024.5,639.1 1028.5,644.1 1032.5,644.0 1036.5,645.3 1040.5,645.5 1044.5,647.5 1048.5,633.5 1052.5,632.2 1056.5,631.0 1060.5,633.1 1064.5,637.2 1068.5,632.9 1072.5,634.3 1076.5,644.4 1080.5,656.8 1084.5,656.5 1088.5,648.5 1092.5,652.1 1096.5,653.2 1100.5,658.9 1104.5,659.1 1108.5,660.4 1112.5,662.6 1116.5,663.8 1120.5,662.8 1124.5,664.0 1128.5,665.4 1132.5,665.8 1136.5,665.0 1140.5,660.6 1144.5,640.6 1148.5,647.0 1152.5,645.7 1156.5,645.7 1160.5,646.5 1164.5,643.1 1168.5,640.1 1172.5,643.1 1176.5,634.7 1180.5,633.1 1184.5,635.7 1188.5,633.3 1192.5,631.6 1196.5,630.1 1200.5,637.4 1204.5,635.4 1208.5,639.5 1212.5,637.1 1216.5,627.9 1220.5,631.7 1224.5,630.5 1228.5,629.6 1232.5,627.3 1236.5,632.2 1240.5,633.8 1244.5,633.1 1248.5,634.9 1252.5,635.4 1256.5,630.7 1260.5,633.9 1264.5,646.9 1268.5,654.3 1272.5,640.8 1276.5,642.2 1280.5,646.4 1284.5,645.6 1288.5,648.1 1292.5,651.2 1296.5,650.0 1300.5,652.3 1304.5,656.5 1308.5,655.5 1312.5,660.7 1316.5,657.1 1320.5,650.0 1324.5,649.3 1328.5,649.0 1332.5,651.8 1336.5,649.4 1340.5,651.5" fill="none" stroke="#1e90ff" stroke-width="1"/>
<g shape-rendering="crispEdges">
<rect x="4" y="734" width="1" height="20" fill="#c0c0c0"/>
<rect x="8" y="737" width="1" height="16" fill="#c0c0c0"/>
<rect x="12" y="740" width="1" height="14" fill="#c0c0c0"/>
<rect x="16" y="735" width="1" height="19" fill="#c0c0c0"/>
<rect x="20" y="729" width="1" height="24" fill="#c0c0c0"/>
<rect x="24" y="731" width="1" height="23" fill="#c0c0c0"/>
<rect x="28" y="732" width="1" height="21" fill="#c0c0c0"/>
<rect x="32" y="729" width="1" height="24" fill="#c0c0c0"/>
<rect x="36" y="727" width="1" height="27" fill="#c0c0c0"/>
<rect x="40" y="728" width="1" height="25" fill="#c0c0c0"/>
<rect x="44" y="728" width="1" height="25" fill="#c0c0c0"/>
<rect x="48" y="728" width="1" height="25" fill="#c0c0c0"/>
<rect x="52" y="729" width="1" height="25" fill="#c0c0c0"/>
<rect x="56" y="729" width="1" height="25" fill="#c0c0c0"/>
<rect x="60" y="727" width="1" height="27" fill="#c0c0c0"/>
<rect x="64" y="726" width="1" height="27" fill="#c0c0c0"/>
<rect x="68" y="723" width="1" height="30" fill="#c0c0c0"/>
<rect x="72" y="719" width="1" height="35" fill="#c0c0c0"/>
<rect x="76" y="714" width="1" height="39" fill="#c0c0c0"/>
<rect x="80" y="711" width="1" height="42" fill="#c0c0c0"/>
<rect x="84" y="709" width="1" height="44" fill="#c0c0c0"/>
<rect x="88" y="708" width="1" height="46" fill="#c0c0c0"/>
<rect x="92" y="705" width="1" height="48" fill="#c0c0c0"/>
<rect x="96" y="705" width="1" height="49" fill="#c0c0c0"/>
<rect x="100" y="704" width="1" height="49" fill="#c0c0c0"/>
<rect x="104" y="704" width="1" height="50" fill="#c0c0c0"/>
<rect x="108" y="705" width="1" height="48" fill="#c0c0c0"/>
<rect x="112" y="708" width="1" height="46" fill="#c0c0c0"/>
<rect x="116" y="714" width="1" height="39" fill="#c0c0c0"/>
<rect x="120" y="725" width="1" height="29" fill="#c0c0c0"/>
<rect x="124" y="733" width="1" height="21" fill="#c0c0c0"/>
<rect x="128" y="742" width="1" height="11" fill="#c0c0c0"/>
<rect x="132" y="751" width="1" height="2" fill="#c0c0c0"/>
<rect x="136" y="754" width="1" height="7" fill="#c0c0c0"/>
<rect x="140" y="754" width="1" height="14" fill="#c0c0c0"/>
<rect x="144" y="754" width="1" height="19" fill="#c0c0c0"/>
<rect x="148" y="754" width="1" height="22" fill="#c0c0c0"/>
<rect x="152" y="754" width="1" height="24" fill="#c0c0c0"/>
<rect x="156" y="754" width="1" height="26" fill="#c0c0c0"/>
<rect x="160" y="754" width="1" height="27" fill="#c0c0c0"/>
<rect x="164" y="754" width="1" height="26" fill="#c0c0c0"/>
<rect x="168" y="754" width="1" height="27" fill="#c0c0c0"/>
<rect x="172" y="754" width="1" height="26" fill="#c0c0c0"/>
<rect x="176" y="754" width="1" height="24" fill="#c0c0c0"/>
<rect x="180" y="754" width="1" height="21" fill="#c0c0c0"/>
<rect x="184" y="754" width="1" height="17" fill="#c0c0c0"/>
<rect x="188" y="754" width="1" height="15" fill="#c0c0c0"/>
<rect x="192" y="754" width="1" height="16" fill="#c0c0c0"/>
<rect x="196" y="754" width="1" height="18" fill="#c0c0c0"/>
<rect x="200" y="754" width="1" height="18" fill="#c0c0c0"/>
<rect x="204" y="754" width="1" height="18" fill="#c0c0c0"/>
<rect x="208" y="754" width="1" height="20" fill="#c0c0c0"/>
<rect x="212" y="754" width="1" height="24" fill="#c0c0c0"/>
<rect x="216" y="754" width="1" height="28" fill="#c0c0c0"/>
<rect x="220" y="754" width="1" height="32" fill="#c0c0c0"/>
<rect x="224" y="754" width="1" height="33" fill="#c0c0c0"/>
<rect x="228" y="754" width="1" height="33" fill="#c0c0c0"/>
<rect x="232" y="754" width="1" height="31" fill="#c0c0c0"/>
<rect x="236" y="754" width="1" height="25" fill="#c0c0c0"/>
<rect x="240" y="754" width="1" height="20" fill="#c0c0c0"/>
<rect x="244" y="754" width="1" height="16" fill="#c0c0c0"/>
<rect x="248" y="754" width="1" height="11" fill="#c0c0c0"/>
<rect x="252" y="754" width="1" height="9" fill="#c0c0c0"/>
<rect x="256" y="754" width="1" height="9" fill="#c0c0c0"/>
<rect x="260" y="754" width="1" height="5" fill="#c0c0c0"/>
<rect x="264" y="754" width="1" height="4" fill="#c0c0c0"/>
<rect x="268" y="754" width="1" height="4" fill="#c0c0c0"/>
<rect x="272" y="754" width="1" height="4" fill="#c0c0c0"/>
<rect x="276" y="754" width="1" height="3" fill="#c0c0c0"/>
<rect x="280" y="754" width="1" height="6" fill="#c0c0c0"/>
<rect x="284" y="754" width="1" height="8" fill="#c0c0c0"/>
<rect x="288" y="754" width="1" height="9" fill="#c0c0c0"/>
<rect x="292" y="754" width="1" height="12" fill="#c0c0c0"/>
<rect x="296" y="754" width="1" height="12" fill="#c0c0c0"/>
<rect x="300" y="754" width="1" height="12" fill="#c0c0c0"/>
<rect x="304" y="754" width="1" height="13" fill="#c0c0c0"/>
<rect x="308" y="754" width="1" height="13" fill="#c0c0c0"/>
<rect x="312" y="754" width="1" height="10" fill="#c0c0c0"/>
<rect x="316" y="754" width="1" height="5" fill="#c0c0c0"/>
<rect x="320" y="754" width="1" height="1" fill="#c0c0c0"/>
<rect x="324" y="749" width="1" height="4" fill="#c0c0c0"/>
<rect x="328" y="742" width="1" height="11" fill="#c0c0c0"/>
<rect x="332" y="737" width="1" height="17" fill="#c0c0c0"/>
<rect x="336" y="732" width="1" height="21" fill="#c0c0c0"/>
<rect x="340" y="730" width="1" height="23" fill="#c0c0c0"/>
<rect x="344" y="729" width="1" height="25" fill="#c0c0c0"/>
<rect x="348" y="729" width="1" height="24" fill="#c0c0c0"/>
<rect x="352" y="732" width="1" height="21" fill="#c0c0c0"/>
<rect x="356" y="735" width="1" height="18" fill="#c0c0c0"/>
<rect x="360" y="737" width="1" height="17" fill="#c0c0c0"/>
<rect x="364" y="738" width="1" height="16" fill="#c0c0c0"/>
<rect x="368" y="739" width="1" height="14" fill="#c0c0c0"/>
<rect x="372" y="742" width="1" height="11" fill="#c0c0c0"/>
<rect x="376" y="743" width="1" height="10" fill="#c0c0c0"/>
<rect x="380" y="743" width="1" height="11" fill="#c0c0c0"/>
<rect x="384" y="741" width="1" height="13" fill="#c0c0c0"/>
<rect x="388" y="739" width="1" height="15" fill="#c0c0c0"/>
<rect x="392" y="738" width="1" height="16" fill="#c0c0c0"/>
<rect x="396" y="738" width="1" height="16" fill="#c0c0c0"/>
<rect x="400" y="737" width="1" height="17" fill="#c0c0c0"/>
<rect x="404" y="736" width="1" height="17" fill="#c0c0c0"/>
<rect x="408" y="739" width="1" height="15" fill="#c0c0c0"/>
<rect x="412" y="741" width="1" height="13" fill="#c0c0c0"/>
<rect x="416" y="743" width="1" height="10" fill="#c0c0c0"/>
<rect x="420" y="745" width="1" height="9" fill="#c0c0c0"/>
<rect x="424" y="748" width="1" height="6" fill="#c0c0c0"/>
<rect x="428" y="748" width="1" height="5" fill="#c0c0c0"/>
<rect x="432" y="748" width="1" height="6" fill="#c0c0c0"/>
<rect x="436" y="747" width="1" height="6" fill="#c0c0c0"/>
<rect x="440" y="750" width="1" height="4" fill="#c0c0c0"/>
<rect x="444" y="752" width="1" height="2" fill="#c0c0c0"/>
<rect x="448" y="753" width="1" height="1" fill="#c0c0c0"/>
<rect x="452" y="752" width="1" height="2" fill="#c0c0c0"/>
<rect x="456" y="753" width="1" height="1" fill="#c0c0c0"/>
<rect x="460" y="754" width="1" height="1" fill="#c0c0c0"/>
<rect x="464" y="753" width="1" height="1" fill="#c0c0c0"/>
<rect x="468" y="753" width="1" height="1" fill="#c0c0c0"/>
<rect x="472" y="753" width="1" height="1" fill="#c0c0c0"/>
<rect x="476" y="752" width="1" height="1" fill="#c0c0c0"/>
<rect x="480" y="752" width="1" height="2" fill="#c0c0c0"/>
<rect x="484" y="751" width="1" height="3" fill="#c0c0c0"/>
<rect x="488" y="751" width="1" height="2" fill="#c0c0c0"/>
<rect x="492" y="749" width="1" height="5" fill="#c0c0c0"/>
<rect x="496" y="745" width="1" height="8" fill="#c0c0c0"/>
<rect x="500" y="741" width="1" height="12" fill="#c0c0c0"/>
<rect x="504" y="740" width="1" height="14" fill="#c0c0c0"/>
<rect x="508" y="739" width="1" height="15" fill="#c0c0c0"/>
<rect x="512" y="739" width="1" height="15" fill="#c0c0c0"/>
<rect x="516" y="740" width="1" height="14" fill="#c0c0c0"/>
<rect x="520" y="741" width="1" height="12" fill="#c0c0c0"/>
<rect x="524" y="740" width="1" height="13" fill="#c0c0c0"/>
<rect x="528" y="741" width="1" height="12" fill="#c0c0c0"/>
<rect x="532" y="742" width="1" height="11" fill="#c0c0c0"/>
<rect x="536" y="742" width="1" height="11" fill="#c0c0c0"/>
<rect x="540" y="741" width="1" height="12" fill="#c0c0c0"/>
<rect x="544" y="741" width="1" height="12" fill="#c0c0c0"/>
<rect x="548" y="740" width="1" height="13" fill="#c0c0c0"/>
<rect x="552" y="742" width="1" height="11" fill="#c0c0c0"/>
<rect x="556" y="744" width="1" height="10" fill="#c0c0c0"/>
<rect x="560" y="744" width="1" height="10" fill="#c0c0c0"/>
<rect x="564" y="744" width="1" height="10" fill="#c0c0c0"/>
<rect x="568" y="745" width="1" height="9" fill="#c0c0c0"/>
<rect x="572" y="746" width="1" height="7" fill="#c0c0c0"/>
<rect x="576" y="745" width="1" height="8" fill="#c0c0c0"/>
<rect x="580" y="746" width="1" height="7" fill="#c0c0c0"/>
<rect x="584" y="748" width="1" height="6" fill="#c0c0c0"/>
<rect x="588" y="749" width="1" height="5" fill="#c0c0c0"/>
<rect x="592" y="750" width="1" height="3" fill="#c0c0c0"/>
<rect x="596" y="749" width="1" height="5" fill="#c0c0c0"/>
<rect x="600" y="749" width="1" height="5" fill="#c0c0c0"/>
<rect x="604" y="749" width="1" height="4" fill="#c0c0c0"/>
<rect x="608" y="750" width="1" height="4" fill="#c0c0c0"/>
<rect x="612" y="749" width="1" height="4" fill="#c0c0c0"/>
<rect x="616" y="746" width="1" height="8" fill="#c0c0c0"/>
<rect x="620" y="745" width="1" height="9" fill="#c0c0c0"/>
<rect x="624" y="743" width="1" height="10" fill="#c0c0c0"/>
<rect x="628" y="742" width="1" height="11" fill="#c0c0c0"/>
<rect x="632" y="743" width="1" height="10" fill="#c0c0c0"/>
<rect x="636" y="747" width="1" height="7" fill="#c0c0c0"/>
<rect x="640" y="750" width="1" height="4" fill="#c0c0c0"/>
<rect x="644" y="754" width="1" height="1" fill="#c0c0c0"/>
<rect x="648" y="754" width="1" height="7" fill="#c0c0c0"/>
<rect x="652" y="754" width="1" height="13" fill="#c0c0c0"/>
<rect x="656" y="754" width="1" height="17" fill="#c0c0c0"/>
<rect x="660" y="754" width="1" height="20" fill="#c0c0c0"/>
<rect x="664" y="754" width="1" height="21" fill="#c0c0c0"/>
<rect x="668" y="754" width="1" height="20" fill="#c0c0c0"/>
<rect x="672" y="754" width="1" height="17" fill="#c0c0c0"/>
<rect x="676" y="754" width="1" height="14" fill="#c0c0c0"/>
<rect x="680" y="754" width="1" height="11" fill="#c0c0c0"/>
<rect x="684" y="754" width="1" height="9" fill="#c0c0c0"/>
<rect x="688" y="754" width="1" height="9" fill="#c0c0c0"/>
<rect x="692" y="754" width="1" height="15" fill="#c0c0c0"/>
<rect x="696" y="754" width="1" height="19" fill="#c0c0c0"/>
<rect x="700" y="754" width="1" height="23" fill="#c0c0c0"/>
<rect x="704" y="754" width="1" height="25" fill="#c0c0c0"/>
<rect x="708" y="754" width="1" height="29" fill="#c0c0c0"/>
<rect x="712" y="754" width="1" height="33" fill="#c0c0c0"/>
<rect x="716" y="754" width="1" height="36" fill="#c0c0c0"/>
<rect x="720" y="754" width="1" height="39" fill="#c0c0c0"/>
<rect x="724" y="754" width="1" height="41" fill="#c0c0c0"/>
<rect x="728" y="754" width="1" height="41" fill="#c0c0c0"/>
<rect x="732" y="754" width="1" height="40" fill="#c0c0c0"/>
<rect x="736" y="754" width="1" height="41" fill="#c0c0c0"/>
<rect x="740" y="754" width="1" height="42" fill="#c0c0c0"/>
<rect x="744" y="754" width="1" height="40" fill="#c0c0c0"/>
<rect x="748" y="754" width="1" height="39" fill="#c0c0c0"/>
<rect x="752" y="754" width="1" height="37" fill="#c0c0c0"/>
<rect x="756" y="754" width="1" height="35" fill="#c0c0c0"/>
<rect x="760" y="754" width="1" height="33" fill="#c0c0c0"/>
<rect x="764" y="754" width="1" height="32" fill="#c0c0c0"/>
<rect x="768" y="754" width="1" height="33" fill="#c0c0c0"/>
<rect x="772" y="754" width="1" height="33" fill="#c0c0c0"/>
<rect x="776" y="754" width="1" height="33" fill="#c0c0c0"/>
<rect x="780" y="754" width="1" height="32" fill="#c0c0c0"/>
<rect x="784" y="754" width="1" height="31" fill="#c0c0c0"/>
<rect x="788" y="754" width="1" height="28" fill="#c0c0c0"/>
<rect x="792" y="754" width="1" height="25" fill="#c0c0c0"/>
<rect x="796" y="754" width="1" height="24" fill="#c0c0c0"/>
<rect x="800" y="754" width="1" height="21" fill="#c0c0c0"/>
<rect x="804" y="754" width="1" height="17" fill="#c0c0c0"/>
<rect x="808" y="754" width="1" height="13" fill="#c0c0c0"/>
<rect x="812" y="754" width="1" height="10" fill="#c0c0c0"/>
<rect x="816" y="754" width="1" height="6" fill="#c0c0c0"/>
<rect x="820" y="754" width="1" height="4" fill="#c0c0c0"/>
<rect x="824" y="754" width="1" height="2" fill="#c0c0c0"/>
<rect x="828" y="754" width="1" height="1" fill="#c0c0c0"/>
<rect x="832" y="754" width="1" height="1" fill="#c0c0c0"/>
<rect x="836" y="751" width="1" height="3" fill="#c0c0c0"/>
<rect x="840" y="748" width="1" height="5" fill="#c0c0c0"/>
<rect x="844" y="746" width="1" height="7" fill="#c0c0c0"/>
<rect x="848" y="746" width="1" height="8" fill="#c0c0c0"/>
<rect x="852" y="743" width="1" height="11" fill="#c0c0c0"/>
<rect x="856" y="738" width="1" height="16" fill="#c0c0c0"/>
<rect x="860" y="737" width="1" height="16" fill="#c0c0c0"/>
<rect x="864" y="738" width="1" height="15" fill="#c0c0c0"/>
<rect x="868" y="739" width="1" height="14" fill="#c0c0c0"/>
<rect x="872" y="740" width="1" height="14" fill="#c0c0c0"/>
<rect x="876" y="740" width="1" height="13" fill="#c0c0c0"/>
<rect x="880" y="737" width="1" height="16" fill="#c0c0c0"/>
<rect x="884" y="735" width="1" height="19" fill="#c0c0c0"/>
<rect x="888" y="735" width="1" height="19" fill="#c0c0c0"/>
<rect x="892" y="736" width="1" height="18" fill="#c0c0c0"/>
<rect x="896" y="735" width="1" height="19" fill="#c0c0c0"/>
<rect x="900" y="733" width="1" height="20" fill="#c0c0c0"/>
<rect x="904" y="735" width="1" height="19" fill="#c0c0c0"/>
<rect x="908" y="735" width="1" height="19" fill="#c0c0c0"/>
<rect x="912" y="735" width="1" height="19" fill="#c0c0c0"/>
<rect x="916" y="736" width="1" height="18" fill="#c0c0c0"/>
<rect x="920" y="737" width="1" height="16" fill="#c0c0c0"/>
<rect x="924" y="739" width="1" height="15" fill="#c0c0c0"/>
<rect x="928" y="739" width="1" height="14" fill="#c0c0c0"/>
<rect x="932" y="740" width="1" height="14" fill="#c0c0c0"/>
<rect x="936" y="741" width="1" height="13" fill="#c0c0c0"/>
<rect x="940" y="740" width="1" height="13" fill="#c0c0c0"/>
<rect x="944" y="740" width="1" height="13" fill="#c0c0c0"/>
<rect x="948" y="740" width="1" height="14" fill="#c0c0c0"/>
<rect x="952" y="743" width="1" height="10" fill="#c0c0c0"/>
<rect x="956" y="746" width="1" height="7" fill="#c0c0c0"/>
<rect x="960" y="751" width="1" height="2" fill="#c0c0c0"/>
<rect x="964" y="754" width="1" height="2" fill="#c0c0c0"/>
<rect x="968" y="754" width="1" height="6" fill="#c0c0c0"/>
<rect x="972" y="754" width="1" height="9" fill="#c0c0c0"/>
<rect x="976" y="754" width="1" height="9" fill="#c0c0c0"/>
<rect x="980" y="754" width="1" height="9" fill="#c0c0c0"/>
<rect x="984" y="754" width="1" height="6" fill="#c0c0c0"/>
<rect x="988" y="754" width="1" height="4" fill="#c0c0c0"/>
<rect x="992" y="754" width="1" height="2" fill="#c0c0c0"/>
<rect x="996" y="754" width="1" height="1" fill="#c0c0c0"/>
<rect x="1000" y="753" width="1" height="1" fill="#c0c0c0"/>
<rect x="1004" y="752" width="1" height="1" fill="#c0c0c0"/>
<rect x="1008" y="752" width="1" height="2" fill="#c0c0c0"/>
<rect x="1012" y="751" width="1" height="2" fill="#c0c0c0"/>
<rect x="1016" y="751" width="1" height="3" fill="#c0c0c0"/>
<rect x="1020" y="751" width="1" height="2" fill="#c0c0c0"/>
<rect x="1024" y="751" width="1" height="3" fill="#c0c0c0"/>
<rect x="1028" y="751" width="1" height="2" fill="#c0c0c0"/>
<rect x="1032" y="752" width="1" height="2" fill="#c0c0c0"/>
<rect x="1036" y="752" width="1" height="1" fill="#c0c0c0"/>
<rect x="1040" y="753" width="1" height="1" fill="#c0c0c0"/>
<rect x="1044" y="754" width="1" height="1" fill="#c0c0c0"/>
<rect x="1048" y="751" width="1" height="2" fill="#c0c0c0"/>
<rect x="1052" y="749" width="1" height="5" fill="#c0c0c0"/>
<rect x="1056" y="747" width="1" height="7" fill="#c0c0c0"/>
<rect x="1060" y="745" width="1" height="8" fill="#c0c0c0"/>
<rect x="1064" y="745" width="1" height="8" fill="#c0c0c0"/>
<rect x="1068" y="744" width="1" height="9" fill="#c0c0c0"/>
<rect x="1072" y="744" width="1" height="10" fill="#c0c0c0"/>
<rect x="1076" y="745" width="1" height="8" fill="#c0c0c0"/>
<rect x="1080" y="751" width="1" height="3" fill="#c0c0c0"/>
<rect x="1084" y="754" width="1" height="1" fill="#c0c0c0"/>
<rect x="1088" y="754" width="1" height="3" fill="#c0c0c0"/>
<rect x="1092" y="754" width="1" height="5" fill="#c0c0c0"/>
<rect x="1096" y="754" width="1" height="7" fill="#c0c0c0"/>
<rect x="1100" y="754" width="1" height="11" fill="#c0c0c0"/>
<rect x="1104" y="754" width="1" height="13" fill="#c0c0c0"/>
<rect x="1108" y="754" width="1" height="16" fill="#c0c0c0"/>
<rect x="1112" y="754" width="1" height="19" fill="#c0c0c0"/>
<rect x="1116" y="754" width="1" height="21" fill="#c0c0c0"/>
<rect x="1120" y="754" width="1" height="23" fill="#c0c0c0"/>
<rect x="1124" y="754" width="1" height="24" fill="#c0c0c0"/>
<rect x="1128" y="754" width="1" height="26" fill="#c0c0c0"/>
<rect x="1132" y="754" width="1" height="27" fill="#c0c0c0"/>
<rect x="1136" y="754" width="1" height="27" fill="#c0c0c0"/>
<rect x="1140" y="754" width="1" height="26" fill="#c0c0c0"/>
<rect x="1144" y="754" width="1" height="21" fill="#c0c0c0"/>
<rect x="1148" y="754" width="1" height="19" fill="#c0c0c0"/>
<rect x="1152" y="754" width="1" height="17" fill="#c0c0c0"/>
<rect x="1156" y="754" width="1" height="14" fill="#c0c0c0"/>
<rect x="1160" y="754" width="1" height="13" fill="#c0c0c0"/>
<rect x="1164" y="754" width="1" height="11" fill="#c0c0c0"/>
<rect x="1168" y="754" width="1" height="8" fill="#c0c0c0"/>
<rect x="1172" y="754" width="1" height="7" fill="#c0c0c0"/>
<rect x="1176" y="754" width="1" height="3" fill="#c0c0c0"/>
<rect x="1180" y="754" width="1" height="1" fill="#c0c0c0"/>
<rect x="1184" y="752" width="1" height="2" fill="#c0c0c0"/>
<rect x="1188" y="750" width="1" height="4" fill="#c0c0c0"/>
<rect x="1192" y="747" width="1" height="6" fill="#c0c0c0"/>
<rect x="1196" y="745" width="1" height="8" fill="#c0c0c0"/>
<rect x="1200" y="745" width="1" height="8" fill="#c0c0c0"/>
<rect x="1204" y="745" width="1" height="9" fill="#c0c0c0"/>
<rect x="1208" y="745" width="1" height="8" fill="#c0c0c0"/>
<rect x="1212" y="745" width="1" height="9" fill="#c0c0c0"/>
<rect x="1216" y="742" width="1" height="11" fill="#c0c0c0"/>
<rect x="1220" y="741" width="1" height="13" fill="#c0c0c0"/>
<rect x="1224" y="740" width="1" height="14" fill="#c0c0c0"/>
<rect x="1228" y="739" width="1" height="15" fill="#c0c0c0"/>
<rect x="1232" y="737" width="1" height="16" fill="#c0c0c0"/>
<rect x="1236" y="737" width="1" height="16" fill="#c0c0c0"/>
<rect x="1240" y="737" width="1" height="16" fill="#c0c0c0"/>
<rect x="1244" y="738" width="1" height="16" fill="#c0c0c0"/>
<rect x="1248" y="739" width="1" height="15" fill="#c0c0c0"/>
<rect x="1252" y="739" width="1" height="14" fill="#c0c0c0"/>
<rect x="1256" y="739" width="1" height="14" fill="#c0c0c0"/>
<rect x="1260" y="740" width="1" height="14" fill="#c0c0c0"/>
<rect x="1264" y="742" width="1" height="11" fill="#c0c0c0"/>
<rect x="1268" y="747" width="1" height="7" fill="#c0c0c0"/>
<rect x="1272" y="747" width="1" height="6" fill="#c0c0c0"/>
<rect x="1276" y="748" width="1" height="6" fill="#c0c0c0"/>
<rect x="1280" y="750" width="1" height="4" fill="#c0c0c0"/>
<rect x="1284" y="751" width="1" height="3" fill="#c0c0c0"/>
<rect x="1288" y="752" width="1" height="1" fill="#c0c0c0"/>
<rect x="1292" y="754" width="1" height="1" fill="#c0c0c0"/>
<rect x="1296" y="754" width="1" height="3" fill="#c0c0c0"/>
<rect x="1300" y="754" width="1" height="4" fill="#c0c0c0"/>
<rect x="1304" y="754" width="1" height="7" fill="#c0c0c0"/>
<rect x="1308" y="754" width="1" height="9" fill="#c0c0c0"/>
<rect x="1312" y="754" width="1" height="12" fill="#c0c0c0"/>
<rect x="1316" y="754" width="1" height="13" fill="#c0c0c0"/>
<rect x="1320" y="754" width="1" height="13" fill="#c0c0c0"/>
<rect x="1324" y="754" width="1" height="12" fill="#c0c0c0"/>
<rect x="1328" y="754" width="1" height="12" fill="#c0c0c0"/>
<rect x="1332" y="754" width="1" height="12" fill="#c0c0c0"/>
<rect x="1336" y="754" width="1" height="11" fill="#c0c0c0"/>
<rect x="1340" y="754" width="1" height="11" fill="#c0c0c0"/>
</g>
<polyline points="4.5,729.7 8.5,730.6 12.5,731.8 16.5,732.4 20.5,732.4 24.5,732.6 28.5,732.9 32.5,732.9 36.5,732.6 40.5,732.0 44.5,731.0 48.5,729.8 52.5,729.1 56.5,729.0 60.5,728.6 64.5,728.0 68.5,727.3 72.5,726.5 76.5,724.9 80.5,723.0 84.5,720.9 88.5,718.6 92.5,716.0 96.5,713.5 100.5,711.0 104.5,708.8 108.5,707.3 112.5,706.6 116.5,706.9 120.5,708.6 124.5,711.4 128.5,715.5 132.5,720.7 136.5,727.0 140.5,734.1 144.5,741.5 148.5,748.9 152.5,755.9 156.5,762.0 160.5,767.4 164.5,771.5 168.5,774.7 172.5,776.8 176.5,777.9 180.5,778.1 184.5,777.7 188.5,776.7 192.5,775.5 196.5,774.5 200.5,773.6 204.5,772.7 208.5,772.0 212.5,771.9 216.5,772.7 220.5,774.3 224.5,776.4 228.5,778.2 232.5,779.7 236.5,780.5 240.5,780.7 244.5,780.3 248.5,778.9 252.5,776.8 256.5,774.2 260.5,771.1 264.5,767.9 268.5,764.9 272.5,762.5 276.5,760.6 280.5,759.5 284.5,759.1 288.5,759.1 292.5,759.4 296.5,760.3 300.5,761.1 304.5,762.2 308.5,763.2 312.5,764.0 316.5,763.9 320.5,763.1 324.5,761.6 328.5,759.1 332.5,755.9 336.5,752.3 340.5,748.2 344.5,744.0 348.5,740.2 352.5,737.3 356.5,735.2 360.5,733.9 364.5,733.3 368.5,733.6 372.5,734.7 376.5,736.1 380.5,737.6 384.5,738.9 388.5,739.6 392.5,739.9 396.5,740.0 400.5,739.8 404.5,739.5 408.5,739.1 412.5,738.9 416.5,738.9 420.5,739.4 424.5,740.4 428.5,741.6 432.5,742.6 436.5,743.8 440.5,745.3 444.5,746.7 448.5,748.1 452.5,749.0 456.5,749.9 460.5,750.6 464.5,751.1 468.5,751.6 472.5,752.3 476.5,752.6 480.5,752.6 484.5,752.3 488.5,752.2 492.5,751.8 496.5,750.9 500.5,749.6 504.5,748.2 508.5,746.6 512.5,745.2 516.5,743.9 520.5,742.8 524.5,741.6 528.5,740.7 532.5,740.4 536.5,740.5 540.5,740.7 544.5,740.9 548.5,741.1 552.5,741.4 556.5,741.7 560.5,742.1 564.5,742.3 568.5,742.6 572.5,743.1 576.5,743.5 580.5,744.0 584.5,744.8 588.5,745.6 592.5,746.2 596.5,746.8 600.5,747.4 604.5,747.9 608.5,748.4 612.5,748.8 616.5,748.7 620.5,748.4 624.5,747.8 628.5,746.9 632.5,746.3 636.5,746.0 640.5,746.1 644.5,746.5 648.5,747.7 652.5,750.0 656.5,752.9 660.5,756.2 664.5,759.8 668.5,763.2 672.5,765.8 676.5,767.7 680.5,768.9 684.5,769.2 688.5,768.8 692.5,768.6 696.5,768.6 700.5,768.8 704.5,769.4 708.5,770.6 712.5,772.8 716.5,775.6 720.5,778.9 724.5,782.4 728.5,785.2 732.5,787.5 736.5,789.6 740.5,791.4 744.5,792.6 748.5,793.3 752.5,793.4 756.5,792.9 760.5,792.0 764.5,791.1 768.5,790.3 772.5,789.5 776.5,788.4 780.5,787.5 784.5,786.6 788.5,785.5 792.5,784.5 796.5,783.5 800.5,782.2 804.5,780.4 808.5,778.3 812.5,775.8 816.5,772.9 820.5,769.9 824.5,767.1 828.5,764.3 832.5,761.7 836.5,759.1 840.5,756.6 844.5,754.3 848.5,752.3 852.5,750.4 856.5,748.3 860.5,746.3 864.5,744.5 868.5,742.9 872.5,741.7 876.5,740.8 880.5,739.8 884.5,738.6 888.5,737.7 892.5,737.5 896.5,737.2 900.5,736.7 904.5,736.2 908.5,735.6 912.5,735.0 916.5,734.8 920.5,735.1 924.5,735.5 928.5,735.9 932.5,736.4 936.5,737.2 940.5,737.8 944.5,738.4 948.5,739.0 952.5,739.8 956.5,740.8 960.5,742.2 964.5,744.0 968.5,746.3 972.5,748.7 976.5,751.2 980.5,753.7 984.5,755.9 988.5,757.5 992.5,758.5 996.5,758.9 1000.5,758.6 1004.5,757.8 1008.5,756.7 1012.5,755.4 1016.5,754.0 1020.5,753.1 1024.5,752.3 1028.5,751.8 1032.5,751.5 1036.5,751.5 1040.5,751.5 1044.5,751.7 1048.5,751.8 1052.5,751.6 1056.5,751.1 1060.5,750.5 1064.5,749.9 1068.5,749.0 1072.5,748.1 1076.5,747.2 1080.5,746.9 1084.5,747.3 1088.5,748.1 1092.5,749.3 1096.5,751.0 1100.5,753.1 1104.5,755.6 1108.5,758.5 1112.5,761.4 1116.5,764.1 1120.5,766.5 1124.5,768.9 1128.5,771.2 1132.5,773.4 1136.5,775.2 1140.5,776.6 1144.5,777.2 1148.5,777.2 1152.5,776.7 1156.5,775.8 1160.5,774.5 1164.5,772.9 1168.5,770.8 1172.5,768.6 1176.5,766.1 1180.5,763.7 1184.5,761.5 1188.5,759.2 1192.5,756.9 1196.5,754.6 1200.5,752.4 1204.5,750.5 1208.5,748.9 1212.5,747.5 1216.5,746.2 1220.5,745.0 1224.5,743.9 1228.5,742.9 1232.5,742.0 1236.5,741.1 1240.5,740.3 1244.5,739.5 1248.5,738.8 1252.5,738.5 1256.5,738.3 1260.5,738.3 1264.5,738.7 1268.5,739.8 1272.5,740.9 1276.5,742.1 1280.5,743.4 1284.5,744.8 1288.5,746.2 1292.5,747.9 1296.5,749.8 1300.5,751.5 1304.5,753.0 1308.5,754.7 1312.5,756.6 1316.5,758.5 1320.5,760.3 1324.5,761.8 1328.5,763.0 1332.5,764.0 1336.5,764.7 1340.5,765.2" fill="none" stroke="#ff0000" stroke-width="1" stroke-dasharray="3,3"/>
<rect x="1686" y="460" width="41" height="11" fill="#000"/>
<text x="1690" y="469" font-family="Liberation Sans, sans-serif" font-size="9.3" fill="#fff" stroke="#fff" stroke-width="0.15">1.31504</text>
<rect x="1686" y="128" width="41" height="11" fill="#ff0000"/>
<text x="1690" y="137" font-family="Liberation Sans, sans-serif" font-size="9.3" fill="#fff" stroke="#fff" stroke-width="0.15">1.35606</text>
<rect x="1686" y="241" width="41" height="11" fill="#ff0000"/>
<text x="1690" y="250" font-family="Liberation Sans, sans-serif" font-size="9.3" fill="#fff" stroke="#fff" stroke-width="0.15">1.34206</text>
<rect x="1686" y="363" width="41" height="11" fill="#00ff00"/>
<text x="1690" y="372" font-family="Liberation Sans, sans-serif" font-size="9.3" fill="#fff" stroke="#fff" stroke-width="0.15">1.32700</text>
<rect x="1686" y="467" width="41" height="11" fill="#0000ff"/>
<text x="1690" y="476" font-family="Liberation Sans, sans-serif" font-size="9.3" fill="#fff" stroke="#fff" stroke-width="0.15">1.31405</text>
<rect x="1686" y="569" width="41" height="11" fill="#0000ff"/>
<text x="1690" y="578" font-family="Liberation Sans, sans-serif" font-size="9.3" fill="#fff" stroke="#fff" stroke-width="0.15">1.30152</text>
<text x="8" y="604.2" font-family="Liberation Sans, sans-serif" font-size="9.3" fill="#000" stroke="#000" stroke-width="0.15">RSI(14) 41.6693</text>
<text x="8.3" y="709.7" font-family="Liberation Sans, sans-serif" font-size="9.3" fill="#000" stroke="#000" stroke-width="0.15" textLength="65" lengthAdjust="spacingAndGlyphs">MACD(12,26,9)</text>
<text x="76.8" y="709.7" font-family="Liberation Sans, sans-serif" font-size="9.3" fill="#000" stroke="#000" stroke-width="0.15" textLength="40.5" lengthAdjust="spacingAndGlyphs">-0.002209</text>
<text x="119.8" y="709.7" font-family="Liberation Sans, sans-serif" font-size="9.3" fill="#000" stroke="#000" stroke-width="0.15" textLength="41.5" lengthAdjust="spacingAndGlyphs">-0.002306</text>
</svg>
</body></html>
